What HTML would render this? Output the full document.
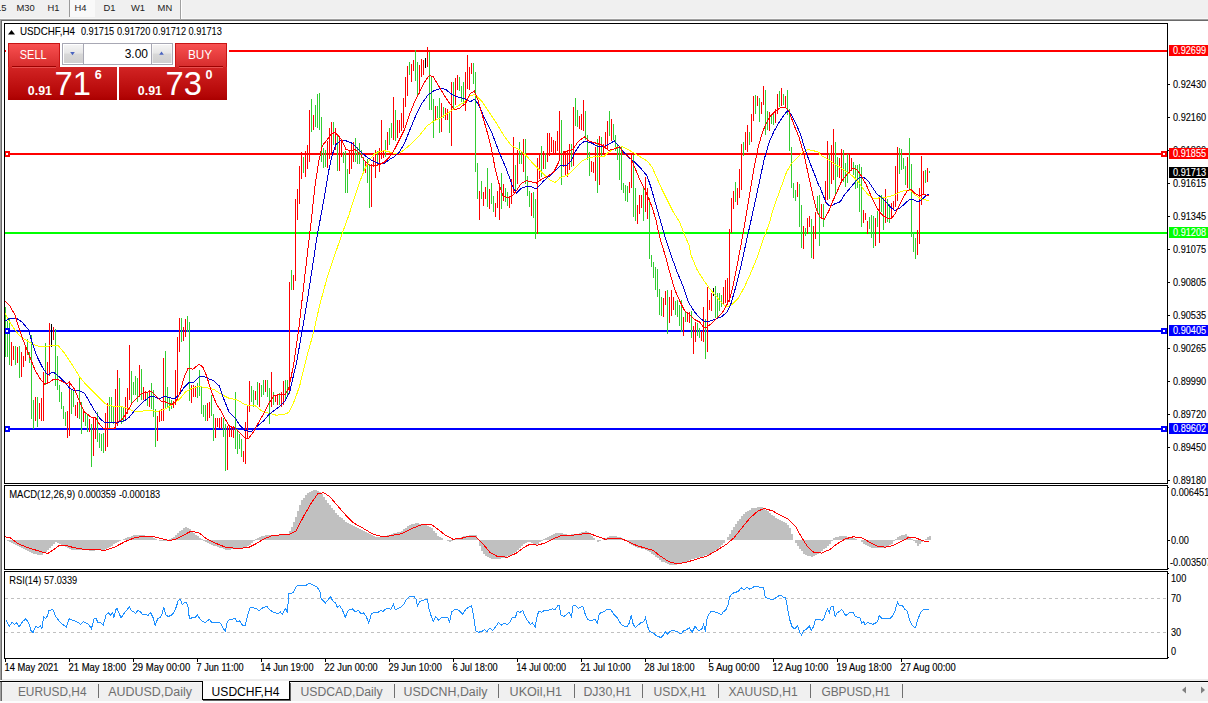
<!DOCTYPE html>
<html><head><meta charset="utf-8">
<style>
html,body{margin:0;padding:0;background:#fff;}
body{width:1208px;height:703px;overflow:hidden;position:relative;font-family:"Liberation Sans",sans-serif;}
svg{position:absolute;left:0;top:0;}
text{font-family:"Liberation Sans",sans-serif;}
.k text, text.k{stroke:#000;stroke-width:0.08px;}
.ax{font-size:9.2px;fill:#000;}
.axw{font-size:9.2px;fill:#fff;}
.tm{font-size:10.2px;fill:#000;stroke:#000;stroke-width:0.15px;}
.tb{font-size:9.4px;fill:#222;}
.tab{font-size:12px;fill:#6e6e6e;}
.taba{font-size:12px;fill:#000;}
</style></head><body>
<svg width="1208" height="703" viewBox="0 0 1208 703">
<defs>
<linearGradient id="gbtn" x1="0" y1="0" x2="0" y2="1"><stop offset="0" stop-color="#fa5252"/><stop offset="1" stop-color="#d42a2a"/></linearGradient>
<linearGradient id="gbox" x1="0" y1="0" x2="0" y2="1"><stop offset="0" stop-color="#d22424"/><stop offset="0.85" stop-color="#b40606"/><stop offset="1" stop-color="#aa0000"/></linearGradient>
<linearGradient id="gsp" x1="0" y1="0" x2="0" y2="1"><stop offset="0" stop-color="#f4f4f4"/><stop offset="0.45" stop-color="#e6e6e6"/><stop offset="0.5" stop-color="#d8d8d8"/><stop offset="1" stop-color="#cfcfcf"/></linearGradient>
<clipPath id="cmain"><rect x="5" y="24" width="1162" height="459"/></clipPath>
<clipPath id="cmacd"><rect x="5" y="486" width="1162" height="83"/></clipPath>
<clipPath id="crsi"><rect x="5" y="572" width="1162" height="86"/></clipPath>
</defs>
<!-- page bg -->
<rect x="0" y="0" width="1208" height="703" fill="#ffffff"/>
<!-- top toolbar -->
<rect x="0" y="0" width="1208" height="19" fill="#f0f0f0"/>
<rect x="0" y="18" width="1208" height="1" fill="#f8f8f8"/>
<rect x="0" y="19" width="1208" height="1" fill="#a0a0a0"/>
<rect x="1" y="20" width="1207" height="1" fill="#696969"/>
<rect x="69" y="0" width="26" height="17" fill="#f9f9f9"/>
<rect x="69" y="0" width="1" height="17" fill="#9a9a9a"/>
<rect x="180" y="0" width="1" height="19" fill="#a0a0a0"/>
<rect x="181" y="0" width="1" height="19" fill="#ffffff"/>
<text class="tb" x="-4" y="10.8">15</text>
<text class="tb" x="16.4" y="10.8">M30</text>
<text class="tb" x="47.5" y="10.8">H1</text>
<text class="tb" x="74.6" y="10.8">H4</text>
<text class="tb" x="103.6" y="10.8">D1</text>
<text class="tb" x="131" y="10.8">W1</text>
<text class="tb" x="157.6" y="10.8">MN</text>
<!-- left frame strip -->
<rect x="0" y="19" width="1" height="661" fill="#a0a0a0"/><rect x="1" y="20" width="1" height="660" fill="#696969"/>
<!-- panels borders -->
<g fill="none" stroke="#000" stroke-width="1" shape-rendering="crispEdges">
<rect x="4.5" y="23.5" width="1163" height="460"/>
<rect x="4.5" y="485.5" width="1163" height="84"/>
<rect x="4.5" y="571.5" width="1163" height="87"/>
</g>
<!-- main chart -->
<g clip-path="url(#cmain)" shape-rendering="crispEdges">
<!-- horizontal levels -->
<rect x="5" y="50" width="1162" height="2" fill="#ff0000"/>
<rect x="5" y="153" width="1162" height="2" fill="#ff0000"/>
<rect x="5" y="232" width="1162" height="2" fill="#00ff00"/>
<rect x="5" y="330" width="1162" height="2" fill="#0000ff"/>
<rect x="5" y="428" width="1162" height="2" fill="#0000ff"/>
<rect x="5" y="307" width="1" height="50" fill="#32cd32"/>
<rect x="7" y="321" width="1" height="36" fill="#32cd32"/>
<rect x="9" y="319" width="1" height="46" fill="#32cd32"/>
<rect x="11" y="342" width="1" height="24" fill="#ff0000"/>
<rect x="13" y="346" width="1" height="14" fill="#ff0000"/>
<rect x="15" y="346" width="1" height="19" fill="#32cd32"/>
<rect x="17" y="347" width="1" height="16" fill="#ff0000"/>
<rect x="19" y="346" width="1" height="32" fill="#32cd32"/>
<rect x="21" y="352" width="1" height="25" fill="#ff0000"/>
<rect x="23" y="356" width="1" height="11" fill="#ff0000"/>
<rect x="25" y="347" width="1" height="14" fill="#ff0000"/>
<rect x="27" y="339" width="1" height="16" fill="#32cd32"/>
<rect x="29" y="352" width="1" height="11" fill="#32cd32"/>
<rect x="31" y="335" width="1" height="84" fill="#32cd32"/>
<rect x="33" y="400" width="1" height="29" fill="#32cd32"/>
<rect x="35" y="397" width="1" height="24" fill="#ff0000"/>
<rect x="37" y="397" width="1" height="30" fill="#32cd32"/>
<rect x="39" y="403" width="1" height="16" fill="#ff0000"/>
<rect x="41" y="398" width="1" height="23" fill="#ff0000"/>
<rect x="43" y="372" width="1" height="49" fill="#ff0000"/>
<rect x="45" y="343" width="1" height="42" fill="#32cd32"/>
<rect x="47" y="362" width="1" height="20" fill="#ff0000"/>
<rect x="49" y="323" width="1" height="53" fill="#ff0000"/>
<rect x="51" y="324" width="1" height="23" fill="#000000"/>
<rect x="53" y="327" width="1" height="13" fill="#ff0000"/>
<rect x="55" y="329" width="1" height="57" fill="#32cd32"/>
<rect x="57" y="356" width="1" height="34" fill="#32cd32"/>
<rect x="59" y="385" width="1" height="17" fill="#32cd32"/>
<rect x="61" y="392" width="1" height="17" fill="#32cd32"/>
<rect x="63" y="406" width="1" height="13" fill="#32cd32"/>
<rect x="65" y="412" width="1" height="14" fill="#32cd32"/>
<rect x="67" y="411" width="1" height="27" fill="#ff0000"/>
<rect x="69" y="381" width="1" height="55" fill="#ff0000"/>
<rect x="71" y="390" width="1" height="24" fill="#32cd32"/>
<rect x="73" y="390" width="1" height="17" fill="#32cd32"/>
<rect x="75" y="405" width="1" height="11" fill="#ff0000"/>
<rect x="77" y="402" width="1" height="16" fill="#ff0000"/>
<rect x="79" y="378" width="1" height="41" fill="#32cd32"/>
<rect x="81" y="402" width="1" height="32" fill="#32cd32"/>
<rect x="83" y="409" width="1" height="13" fill="#ff0000"/>
<rect x="85" y="412" width="1" height="14" fill="#32cd32"/>
<rect x="87" y="414" width="1" height="18" fill="#32cd32"/>
<rect x="89" y="419" width="1" height="13" fill="#ff0000"/>
<rect x="91" y="424" width="1" height="43" fill="#32cd32"/>
<rect x="93" y="417" width="1" height="39" fill="#ff0000"/>
<rect x="95" y="417" width="1" height="22" fill="#ff0000"/>
<rect x="97" y="412" width="1" height="30" fill="#32cd32"/>
<rect x="99" y="433" width="1" height="15" fill="#32cd32"/>
<rect x="101" y="434" width="1" height="17" fill="#32cd32"/>
<rect x="103" y="433" width="1" height="20" fill="#32cd32"/>
<rect x="105" y="413" width="1" height="38" fill="#ff0000"/>
<rect x="107" y="403" width="1" height="44" fill="#ff0000"/>
<rect x="109" y="397" width="1" height="32" fill="#32cd32"/>
<rect x="111" y="397" width="1" height="25" fill="#32cd32"/>
<rect x="113" y="407" width="1" height="17" fill="#32cd32"/>
<rect x="115" y="389" width="1" height="40" fill="#ff0000"/>
<rect x="117" y="370" width="1" height="56" fill="#ff0000"/>
<rect x="119" y="378" width="1" height="44" fill="#32cd32"/>
<rect x="121" y="407" width="1" height="17" fill="#32cd32"/>
<rect x="123" y="407" width="1" height="15" fill="#32cd32"/>
<rect x="125" y="397" width="1" height="22" fill="#ff0000"/>
<rect x="127" y="388" width="1" height="26" fill="#ff0000"/>
<rect x="129" y="345" width="1" height="55" fill="#ff0000"/>
<rect x="131" y="371" width="1" height="34" fill="#32cd32"/>
<rect x="133" y="382" width="1" height="13" fill="#32cd32"/>
<rect x="135" y="376" width="1" height="19" fill="#32cd32"/>
<rect x="137" y="378" width="1" height="24" fill="#32cd32"/>
<rect x="139" y="365" width="1" height="32" fill="#ff0000"/>
<rect x="141" y="369" width="1" height="31" fill="#32cd32"/>
<rect x="143" y="387" width="1" height="13" fill="#ff0000"/>
<rect x="145" y="391" width="1" height="10" fill="#ff0000"/>
<rect x="147" y="393" width="1" height="13" fill="#32cd32"/>
<rect x="149" y="390" width="1" height="17" fill="#ff0000"/>
<rect x="151" y="383" width="1" height="26" fill="#32cd32"/>
<rect x="153" y="390" width="1" height="27" fill="#32cd32"/>
<rect x="155" y="409" width="1" height="38" fill="#32cd32"/>
<rect x="157" y="416" width="1" height="25" fill="#ff0000"/>
<rect x="159" y="411" width="1" height="11" fill="#ff0000"/>
<rect x="161" y="409" width="1" height="12" fill="#ff0000"/>
<rect x="163" y="358" width="1" height="63" fill="#ff0000"/>
<rect x="165" y="351" width="1" height="58" fill="#32cd32"/>
<rect x="167" y="387" width="1" height="20" fill="#32cd32"/>
<rect x="169" y="397" width="1" height="14" fill="#32cd32"/>
<rect x="171" y="400" width="1" height="9" fill="#32cd32"/>
<rect x="173" y="401" width="1" height="7" fill="#ff0000"/>
<rect x="175" y="370" width="1" height="35" fill="#ff0000"/>
<rect x="177" y="337" width="1" height="63" fill="#ff0000"/>
<rect x="179" y="318" width="1" height="34" fill="#ff0000"/>
<rect x="181" y="318" width="1" height="24" fill="#32cd32"/>
<rect x="183" y="327" width="1" height="14" fill="#ff0000"/>
<rect x="185" y="319" width="1" height="18" fill="#ff0000"/>
<rect x="187" y="316" width="1" height="16" fill="#32cd32"/>
<rect x="189" y="322" width="1" height="79" fill="#32cd32"/>
<rect x="191" y="385" width="1" height="18" fill="#ff0000"/>
<rect x="193" y="385" width="1" height="12" fill="#ff0000"/>
<rect x="195" y="386" width="1" height="11" fill="#ff0000"/>
<rect x="197" y="383" width="1" height="15" fill="#32cd32"/>
<rect x="199" y="370" width="1" height="26" fill="#32cd32"/>
<rect x="201" y="386" width="1" height="28" fill="#32cd32"/>
<rect x="203" y="405" width="1" height="12" fill="#32cd32"/>
<rect x="205" y="405" width="1" height="16" fill="#32cd32"/>
<rect x="207" y="403" width="1" height="18" fill="#ff0000"/>
<rect x="209" y="402" width="1" height="16" fill="#ff0000"/>
<rect x="211" y="395" width="1" height="21" fill="#32cd32"/>
<rect x="213" y="414" width="1" height="27" fill="#32cd32"/>
<rect x="215" y="418" width="1" height="20" fill="#ff0000"/>
<rect x="217" y="418" width="1" height="9" fill="#ff0000"/>
<rect x="219" y="418" width="1" height="10" fill="#ff0000"/>
<rect x="221" y="417" width="1" height="12" fill="#ff0000"/>
<rect x="223" y="418" width="1" height="19" fill="#32cd32"/>
<rect x="225" y="424" width="1" height="47" fill="#32cd32"/>
<rect x="227" y="426" width="1" height="44" fill="#ff0000"/>
<rect x="229" y="426" width="1" height="11" fill="#ff0000"/>
<rect x="231" y="426" width="1" height="11" fill="#ff0000"/>
<rect x="233" y="426" width="1" height="12" fill="#ff0000"/>
<rect x="235" y="392" width="1" height="57" fill="#32cd32"/>
<rect x="237" y="429" width="1" height="25" fill="#32cd32"/>
<rect x="239" y="434" width="1" height="15" fill="#32cd32"/>
<rect x="241" y="439" width="1" height="18" fill="#32cd32"/>
<rect x="243" y="451" width="1" height="11" fill="#ff0000"/>
<rect x="245" y="422" width="1" height="42" fill="#ff0000"/>
<rect x="247" y="405" width="1" height="34" fill="#ff0000"/>
<rect x="249" y="381" width="1" height="31" fill="#ff0000"/>
<rect x="251" y="386" width="1" height="16" fill="#32cd32"/>
<rect x="253" y="390" width="1" height="17" fill="#32cd32"/>
<rect x="255" y="391" width="1" height="9" fill="#ff0000"/>
<rect x="257" y="382" width="1" height="23" fill="#32cd32"/>
<rect x="259" y="383" width="1" height="24" fill="#ff0000"/>
<rect x="261" y="385" width="1" height="12" fill="#32cd32"/>
<rect x="263" y="380" width="1" height="15" fill="#32cd32"/>
<rect x="265" y="380" width="1" height="12" fill="#ff0000"/>
<rect x="267" y="380" width="1" height="17" fill="#32cd32"/>
<rect x="269" y="388" width="1" height="36" fill="#32cd32"/>
<rect x="271" y="372" width="1" height="35" fill="#ff0000"/>
<rect x="273" y="392" width="1" height="13" fill="#32cd32"/>
<rect x="275" y="395" width="1" height="7" fill="#ff0000"/>
<rect x="277" y="395" width="1" height="10" fill="#ff0000"/>
<rect x="279" y="393" width="1" height="12" fill="#32cd32"/>
<rect x="281" y="392" width="1" height="15" fill="#ff0000"/>
<rect x="283" y="381" width="1" height="24" fill="#ff0000"/>
<rect x="285" y="380" width="1" height="20" fill="#32cd32"/>
<rect x="287" y="380" width="1" height="17" fill="#32cd32"/>
<rect x="289" y="282" width="1" height="112" fill="#ff0000"/>
<rect x="291" y="270" width="1" height="20" fill="#32cd32"/>
<rect x="293" y="275" width="1" height="15" fill="#ff0000"/>
<rect x="295" y="199" width="1" height="82" fill="#ff0000"/>
<rect x="297" y="189" width="1" height="31" fill="#ff0000"/>
<rect x="299" y="166" width="1" height="38" fill="#ff0000"/>
<rect x="301" y="152" width="1" height="27" fill="#ff0000"/>
<rect x="303" y="157" width="1" height="16" fill="#32cd32"/>
<rect x="305" y="151" width="1" height="26" fill="#ff0000"/>
<rect x="307" y="145" width="1" height="24" fill="#ff0000"/>
<rect x="309" y="110" width="1" height="52" fill="#ff0000"/>
<rect x="311" y="99" width="1" height="33" fill="#32cd32"/>
<rect x="313" y="115" width="1" height="15" fill="#ff0000"/>
<rect x="315" y="105" width="1" height="22" fill="#32cd32"/>
<rect x="317" y="94" width="1" height="34" fill="#32cd32"/>
<rect x="319" y="93" width="1" height="37" fill="#32cd32"/>
<rect x="321" y="117" width="1" height="45" fill="#32cd32"/>
<rect x="323" y="148" width="1" height="20" fill="#32cd32"/>
<rect x="325" y="150" width="1" height="17" fill="#32cd32"/>
<rect x="327" y="141" width="1" height="27" fill="#ff0000"/>
<rect x="329" y="128" width="1" height="31" fill="#ff0000"/>
<rect x="331" y="122" width="1" height="33" fill="#ff0000"/>
<rect x="333" y="122" width="1" height="23" fill="#32cd32"/>
<rect x="335" y="128" width="1" height="22" fill="#ff0000"/>
<rect x="337" y="135" width="1" height="36" fill="#32cd32"/>
<rect x="339" y="138" width="1" height="33" fill="#ff0000"/>
<rect x="341" y="140" width="1" height="17" fill="#ff0000"/>
<rect x="343" y="152" width="1" height="11" fill="#32cd32"/>
<rect x="345" y="151" width="1" height="42" fill="#32cd32"/>
<rect x="347" y="169" width="1" height="24" fill="#32cd32"/>
<rect x="349" y="150" width="1" height="24" fill="#ff0000"/>
<rect x="351" y="143" width="1" height="26" fill="#ff0000"/>
<rect x="353" y="142" width="1" height="20" fill="#ff0000"/>
<rect x="355" y="138" width="1" height="24" fill="#32cd32"/>
<rect x="357" y="147" width="1" height="17" fill="#32cd32"/>
<rect x="359" y="143" width="1" height="21" fill="#32cd32"/>
<rect x="361" y="150" width="1" height="8" fill="#32cd32"/>
<rect x="363" y="157" width="1" height="14" fill="#32cd32"/>
<rect x="365" y="162" width="1" height="11" fill="#ff0000"/>
<rect x="367" y="159" width="1" height="24" fill="#32cd32"/>
<rect x="369" y="164" width="1" height="44" fill="#32cd32"/>
<rect x="371" y="164" width="1" height="43" fill="#ff0000"/>
<rect x="373" y="157" width="1" height="10" fill="#ff0000"/>
<rect x="375" y="150" width="1" height="28" fill="#ff0000"/>
<rect x="377" y="151" width="1" height="11" fill="#32cd32"/>
<rect x="379" y="148" width="1" height="24" fill="#ff0000"/>
<rect x="381" y="120" width="1" height="39" fill="#ff0000"/>
<rect x="383" y="150" width="1" height="8" fill="#ff0000"/>
<rect x="385" y="140" width="1" height="17" fill="#32cd32"/>
<rect x="387" y="132" width="1" height="18" fill="#ff0000"/>
<rect x="389" y="128" width="1" height="17" fill="#32cd32"/>
<rect x="391" y="123" width="1" height="15" fill="#32cd32"/>
<rect x="393" y="97" width="1" height="43" fill="#ff0000"/>
<rect x="395" y="110" width="1" height="31" fill="#32cd32"/>
<rect x="397" y="120" width="1" height="18" fill="#ff0000"/>
<rect x="399" y="120" width="1" height="13" fill="#ff0000"/>
<rect x="401" y="113" width="1" height="18" fill="#ff0000"/>
<rect x="403" y="98" width="1" height="30" fill="#ff0000"/>
<rect x="405" y="77" width="1" height="30" fill="#ff0000"/>
<rect x="407" y="66" width="1" height="30" fill="#ff0000"/>
<rect x="409" y="62" width="1" height="13" fill="#32cd32"/>
<rect x="411" y="64" width="1" height="18" fill="#ff0000"/>
<rect x="413" y="60" width="1" height="11" fill="#ff0000"/>
<rect x="415" y="50" width="1" height="31" fill="#32cd32"/>
<rect x="417" y="62" width="1" height="34" fill="#32cd32"/>
<rect x="419" y="65" width="1" height="29" fill="#ff0000"/>
<rect x="421" y="59" width="1" height="18" fill="#ff0000"/>
<rect x="423" y="60" width="1" height="15" fill="#ff0000"/>
<rect x="425" y="58" width="1" height="10" fill="#000000"/>
<rect x="427" y="47" width="1" height="20" fill="#ff0000"/>
<rect x="429" y="52" width="1" height="58" fill="#32cd32"/>
<rect x="431" y="77" width="1" height="33" fill="#32cd32"/>
<rect x="433" y="99" width="1" height="39" fill="#32cd32"/>
<rect x="435" y="106" width="1" height="14" fill="#ff0000"/>
<rect x="437" y="106" width="1" height="12" fill="#32cd32"/>
<rect x="439" y="98" width="1" height="35" fill="#32cd32"/>
<rect x="441" y="103" width="1" height="29" fill="#ff0000"/>
<rect x="443" y="107" width="1" height="11" fill="#32cd32"/>
<rect x="445" y="108" width="1" height="12" fill="#ff0000"/>
<rect x="447" y="109" width="1" height="11" fill="#ff0000"/>
<rect x="449" y="112" width="1" height="21" fill="#32cd32"/>
<rect x="451" y="82" width="1" height="64" fill="#ff0000"/>
<rect x="453" y="82" width="1" height="28" fill="#32cd32"/>
<rect x="455" y="78" width="1" height="27" fill="#ff0000"/>
<rect x="457" y="75" width="1" height="15" fill="#ff0000"/>
<rect x="459" y="77" width="1" height="14" fill="#32cd32"/>
<rect x="461" y="86" width="1" height="16" fill="#32cd32"/>
<rect x="463" y="82" width="1" height="24" fill="#32cd32"/>
<rect x="465" y="72" width="1" height="39" fill="#ff0000"/>
<rect x="467" y="55" width="1" height="34" fill="#ff0000"/>
<rect x="469" y="67" width="1" height="23" fill="#ff0000"/>
<rect x="471" y="63" width="1" height="11" fill="#ff0000"/>
<rect x="473" y="63" width="1" height="21" fill="#32cd32"/>
<rect x="475" y="72" width="1" height="100" fill="#32cd32"/>
<rect x="477" y="163" width="1" height="36" fill="#32cd32"/>
<rect x="479" y="191" width="1" height="29" fill="#ff0000"/>
<rect x="481" y="181" width="1" height="18" fill="#32cd32"/>
<rect x="483" y="192" width="1" height="14" fill="#ff0000"/>
<rect x="485" y="187" width="1" height="12" fill="#ff0000"/>
<rect x="487" y="168" width="1" height="39" fill="#32cd32"/>
<rect x="489" y="189" width="1" height="20" fill="#ff0000"/>
<rect x="491" y="183" width="1" height="21" fill="#32cd32"/>
<rect x="493" y="196" width="1" height="16" fill="#32cd32"/>
<rect x="495" y="203" width="1" height="14" fill="#ff0000"/>
<rect x="497" y="191" width="1" height="17" fill="#ff0000"/>
<rect x="499" y="183" width="1" height="37" fill="#ff0000"/>
<rect x="501" y="173" width="1" height="36" fill="#32cd32"/>
<rect x="503" y="184" width="1" height="17" fill="#ff0000"/>
<rect x="505" y="188" width="1" height="14" fill="#32cd32"/>
<rect x="507" y="192" width="1" height="14" fill="#32cd32"/>
<rect x="509" y="196" width="1" height="12" fill="#ff0000"/>
<rect x="511" y="179" width="1" height="25" fill="#ff0000"/>
<rect x="513" y="137" width="1" height="56" fill="#ff0000"/>
<rect x="515" y="165" width="1" height="27" fill="#32cd32"/>
<rect x="517" y="150" width="1" height="34" fill="#ff0000"/>
<rect x="519" y="142" width="1" height="22" fill="#32cd32"/>
<rect x="521" y="151" width="1" height="13" fill="#32cd32"/>
<rect x="523" y="139" width="1" height="33" fill="#ff0000"/>
<rect x="525" y="139" width="1" height="45" fill="#32cd32"/>
<rect x="527" y="176" width="1" height="20" fill="#32cd32"/>
<rect x="529" y="191" width="1" height="16" fill="#32cd32"/>
<rect x="531" y="193" width="1" height="23" fill="#ff0000"/>
<rect x="533" y="192" width="1" height="26" fill="#32cd32"/>
<rect x="535" y="199" width="1" height="40" fill="#32cd32"/>
<rect x="537" y="158" width="1" height="76" fill="#ff0000"/>
<rect x="539" y="153" width="1" height="26" fill="#ff0000"/>
<rect x="541" y="146" width="1" height="31" fill="#32cd32"/>
<rect x="543" y="151" width="1" height="18" fill="#ff0000"/>
<rect x="545" y="153" width="1" height="16" fill="#32cd32"/>
<rect x="547" y="133" width="1" height="29" fill="#ff0000"/>
<rect x="549" y="133" width="1" height="23" fill="#ff0000"/>
<rect x="551" y="137" width="1" height="15" fill="#ff0000"/>
<rect x="553" y="140" width="1" height="15" fill="#ff0000"/>
<rect x="555" y="141" width="1" height="12" fill="#ff0000"/>
<rect x="557" y="131" width="1" height="20" fill="#ff0000"/>
<rect x="559" y="111" width="1" height="44" fill="#ff0000"/>
<rect x="561" y="120" width="1" height="65" fill="#32cd32"/>
<rect x="563" y="151" width="1" height="16" fill="#ff0000"/>
<rect x="565" y="152" width="1" height="23" fill="#ff0000"/>
<rect x="567" y="150" width="1" height="27" fill="#ff0000"/>
<rect x="569" y="144" width="1" height="26" fill="#ff0000"/>
<rect x="571" y="144" width="1" height="23" fill="#32cd32"/>
<rect x="573" y="107" width="1" height="59" fill="#ff0000"/>
<rect x="575" y="98" width="1" height="28" fill="#32cd32"/>
<rect x="577" y="110" width="1" height="17" fill="#32cd32"/>
<rect x="579" y="116" width="1" height="13" fill="#ff0000"/>
<rect x="581" y="114" width="1" height="16" fill="#ff0000"/>
<rect x="583" y="100" width="1" height="31" fill="#ff0000"/>
<rect x="585" y="111" width="1" height="29" fill="#32cd32"/>
<rect x="587" y="135" width="1" height="25" fill="#32cd32"/>
<rect x="589" y="152" width="1" height="24" fill="#32cd32"/>
<rect x="591" y="161" width="1" height="11" fill="#ff0000"/>
<rect x="593" y="162" width="1" height="11" fill="#ff0000"/>
<rect x="595" y="147" width="1" height="34" fill="#ff0000"/>
<rect x="597" y="139" width="1" height="54" fill="#32cd32"/>
<rect x="599" y="136" width="1" height="49" fill="#ff0000"/>
<rect x="601" y="137" width="1" height="20" fill="#32cd32"/>
<rect x="603" y="144" width="1" height="11" fill="#ff0000"/>
<rect x="605" y="132" width="1" height="17" fill="#ff0000"/>
<rect x="607" y="121" width="1" height="29" fill="#ff0000"/>
<rect x="609" y="111" width="1" height="25" fill="#32cd32"/>
<rect x="611" y="119" width="1" height="22" fill="#ff0000"/>
<rect x="613" y="124" width="1" height="16" fill="#32cd32"/>
<rect x="615" y="135" width="1" height="16" fill="#32cd32"/>
<rect x="617" y="144" width="1" height="16" fill="#32cd32"/>
<rect x="619" y="146" width="1" height="34" fill="#32cd32"/>
<rect x="621" y="146" width="1" height="44" fill="#32cd32"/>
<rect x="623" y="183" width="1" height="10" fill="#32cd32"/>
<rect x="625" y="185" width="1" height="16" fill="#32cd32"/>
<rect x="627" y="186" width="1" height="16" fill="#32cd32"/>
<rect x="629" y="182" width="1" height="11" fill="#ff0000"/>
<rect x="631" y="153" width="1" height="35" fill="#ff0000"/>
<rect x="633" y="155" width="1" height="62" fill="#32cd32"/>
<rect x="635" y="188" width="1" height="33" fill="#32cd32"/>
<rect x="637" y="205" width="1" height="19" fill="#ff0000"/>
<rect x="639" y="195" width="1" height="19" fill="#ff0000"/>
<rect x="641" y="195" width="1" height="13" fill="#ff0000"/>
<rect x="643" y="188" width="1" height="33" fill="#32cd32"/>
<rect x="645" y="177" width="1" height="35" fill="#ff0000"/>
<rect x="647" y="188" width="1" height="31" fill="#ff0000"/>
<rect x="649" y="198" width="1" height="61" fill="#32cd32"/>
<rect x="651" y="255" width="1" height="12" fill="#32cd32"/>
<rect x="653" y="262" width="1" height="16" fill="#32cd32"/>
<rect x="655" y="267" width="1" height="23" fill="#32cd32"/>
<rect x="657" y="269" width="1" height="28" fill="#32cd32"/>
<rect x="659" y="289" width="1" height="26" fill="#32cd32"/>
<rect x="661" y="297" width="1" height="19" fill="#32cd32"/>
<rect x="663" y="298" width="1" height="19" fill="#ff0000"/>
<rect x="665" y="291" width="1" height="14" fill="#ff0000"/>
<rect x="667" y="290" width="1" height="44" fill="#32cd32"/>
<rect x="669" y="297" width="1" height="26" fill="#ff0000"/>
<rect x="671" y="290" width="1" height="26" fill="#ff0000"/>
<rect x="673" y="297" width="1" height="13" fill="#ff0000"/>
<rect x="675" y="301" width="1" height="14" fill="#32cd32"/>
<rect x="677" y="300" width="1" height="17" fill="#32cd32"/>
<rect x="679" y="305" width="1" height="21" fill="#32cd32"/>
<rect x="681" y="300" width="1" height="32" fill="#32cd32"/>
<rect x="683" y="317" width="1" height="19" fill="#ff0000"/>
<rect x="685" y="312" width="1" height="10" fill="#32cd32"/>
<rect x="687" y="312" width="1" height="10" fill="#ff0000"/>
<rect x="689" y="312" width="1" height="11" fill="#ff0000"/>
<rect x="691" y="311" width="1" height="27" fill="#32cd32"/>
<rect x="693" y="326" width="1" height="28" fill="#ff0000"/>
<rect x="695" y="322" width="1" height="20" fill="#ff0000"/>
<rect x="697" y="323" width="1" height="13" fill="#32cd32"/>
<rect x="699" y="328" width="1" height="10" fill="#32cd32"/>
<rect x="701" y="331" width="1" height="10" fill="#ff0000"/>
<rect x="703" y="307" width="1" height="35" fill="#ff0000"/>
<rect x="705" y="319" width="1" height="40" fill="#32cd32"/>
<rect x="707" y="287" width="1" height="65" fill="#ff0000"/>
<rect x="709" y="300" width="1" height="10" fill="#ff0000"/>
<rect x="711" y="293" width="1" height="18" fill="#ff0000"/>
<rect x="713" y="288" width="1" height="8" fill="#000000"/>
<rect x="715" y="286" width="1" height="32" fill="#32cd32"/>
<rect x="717" y="293" width="1" height="24" fill="#32cd32"/>
<rect x="719" y="293" width="1" height="18" fill="#32cd32"/>
<rect x="721" y="295" width="1" height="12" fill="#32cd32"/>
<rect x="723" y="287" width="1" height="18" fill="#ff0000"/>
<rect x="725" y="280" width="1" height="23" fill="#ff0000"/>
<rect x="727" y="278" width="1" height="27" fill="#ff0000"/>
<rect x="729" y="229" width="1" height="73" fill="#ff0000"/>
<rect x="731" y="198" width="1" height="35" fill="#ff0000"/>
<rect x="733" y="191" width="1" height="18" fill="#ff0000"/>
<rect x="735" y="182" width="1" height="20" fill="#32cd32"/>
<rect x="737" y="188" width="1" height="17" fill="#ff0000"/>
<rect x="739" y="169" width="1" height="29" fill="#ff0000"/>
<rect x="741" y="144" width="1" height="46" fill="#ff0000"/>
<rect x="743" y="142" width="1" height="14" fill="#32cd32"/>
<rect x="745" y="132" width="1" height="18" fill="#ff0000"/>
<rect x="747" y="125" width="1" height="27" fill="#ff0000"/>
<rect x="749" y="132" width="1" height="13" fill="#32cd32"/>
<rect x="751" y="114" width="1" height="28" fill="#ff0000"/>
<rect x="753" y="96" width="1" height="25" fill="#ff0000"/>
<rect x="755" y="95" width="1" height="19" fill="#32cd32"/>
<rect x="757" y="96" width="1" height="10" fill="#ff0000"/>
<rect x="759" y="98" width="1" height="24" fill="#32cd32"/>
<rect x="761" y="102" width="1" height="12" fill="#ff0000"/>
<rect x="763" y="86" width="1" height="19" fill="#ff0000"/>
<rect x="765" y="90" width="1" height="45" fill="#32cd32"/>
<rect x="767" y="111" width="1" height="19" fill="#32cd32"/>
<rect x="769" y="112" width="1" height="19" fill="#ff0000"/>
<rect x="771" y="114" width="1" height="10" fill="#32cd32"/>
<rect x="773" y="112" width="1" height="13" fill="#32cd32"/>
<rect x="775" y="109" width="1" height="14" fill="#ff0000"/>
<rect x="777" y="94" width="1" height="20" fill="#ff0000"/>
<rect x="779" y="91" width="1" height="16" fill="#32cd32"/>
<rect x="781" y="88" width="1" height="18" fill="#ff0000"/>
<rect x="783" y="94" width="1" height="11" fill="#32cd32"/>
<rect x="785" y="96" width="1" height="10" fill="#ff0000"/>
<rect x="787" y="90" width="1" height="25" fill="#32cd32"/>
<rect x="789" y="109" width="1" height="42" fill="#32cd32"/>
<rect x="791" y="147" width="1" height="41" fill="#32cd32"/>
<rect x="793" y="183" width="1" height="15" fill="#32cd32"/>
<rect x="795" y="190" width="1" height="11" fill="#32cd32"/>
<rect x="797" y="182" width="1" height="15" fill="#ff0000"/>
<rect x="799" y="184" width="1" height="43" fill="#32cd32"/>
<rect x="801" y="205" width="1" height="43" fill="#32cd32"/>
<rect x="803" y="226" width="1" height="23" fill="#ff0000"/>
<rect x="805" y="228" width="1" height="8" fill="#32cd32"/>
<rect x="807" y="218" width="1" height="16" fill="#ff0000"/>
<rect x="809" y="216" width="1" height="11" fill="#ff0000"/>
<rect x="811" y="219" width="1" height="39" fill="#32cd32"/>
<rect x="813" y="226" width="1" height="33" fill="#ff0000"/>
<rect x="815" y="212" width="1" height="27" fill="#ff0000"/>
<rect x="817" y="196" width="1" height="18" fill="#32cd32"/>
<rect x="819" y="195" width="1" height="51" fill="#32cd32"/>
<rect x="821" y="204" width="1" height="15" fill="#ff0000"/>
<rect x="823" y="204" width="1" height="23" fill="#32cd32"/>
<rect x="825" y="181" width="1" height="22" fill="#ff0000"/>
<rect x="827" y="141" width="1" height="59" fill="#ff0000"/>
<rect x="829" y="153" width="1" height="46" fill="#32cd32"/>
<rect x="831" y="145" width="1" height="39" fill="#ff0000"/>
<rect x="833" y="129" width="1" height="51" fill="#ff0000"/>
<rect x="835" y="142" width="1" height="54" fill="#32cd32"/>
<rect x="837" y="157" width="1" height="20" fill="#32cd32"/>
<rect x="839" y="158" width="1" height="20" fill="#ff0000"/>
<rect x="841" y="149" width="1" height="34" fill="#ff0000"/>
<rect x="843" y="150" width="1" height="32" fill="#32cd32"/>
<rect x="845" y="163" width="1" height="24" fill="#32cd32"/>
<rect x="847" y="154" width="1" height="29" fill="#32cd32"/>
<rect x="849" y="153" width="1" height="20" fill="#ff0000"/>
<rect x="851" y="158" width="1" height="13" fill="#ff0000"/>
<rect x="853" y="162" width="1" height="13" fill="#32cd32"/>
<rect x="855" y="165" width="1" height="24" fill="#32cd32"/>
<rect x="857" y="165" width="1" height="23" fill="#32cd32"/>
<rect x="859" y="164" width="1" height="48" fill="#32cd32"/>
<rect x="861" y="167" width="1" height="60" fill="#32cd32"/>
<rect x="863" y="210" width="1" height="13" fill="#ff0000"/>
<rect x="865" y="213" width="1" height="7" fill="#ff0000"/>
<rect x="867" y="221" width="1" height="13" fill="#ff0000"/>
<rect x="869" y="217" width="1" height="12" fill="#32cd32"/>
<rect x="871" y="215" width="1" height="23" fill="#32cd32"/>
<rect x="873" y="216" width="1" height="32" fill="#32cd32"/>
<rect x="875" y="218" width="1" height="28" fill="#ff0000"/>
<rect x="877" y="211" width="1" height="16" fill="#32cd32"/>
<rect x="879" y="198" width="1" height="45" fill="#ff0000"/>
<rect x="881" y="195" width="1" height="17" fill="#32cd32"/>
<rect x="883" y="198" width="1" height="32" fill="#32cd32"/>
<rect x="885" y="189" width="1" height="34" fill="#ff0000"/>
<rect x="887" y="199" width="1" height="23" fill="#32cd32"/>
<rect x="889" y="204" width="1" height="19" fill="#32cd32"/>
<rect x="891" y="203" width="1" height="16" fill="#ff0000"/>
<rect x="893" y="201" width="1" height="9" fill="#ff0000"/>
<rect x="895" y="166" width="1" height="41" fill="#ff0000"/>
<rect x="897" y="147" width="1" height="54" fill="#ff0000"/>
<rect x="899" y="148" width="1" height="26" fill="#32cd32"/>
<rect x="901" y="149" width="1" height="21" fill="#32cd32"/>
<rect x="903" y="158" width="1" height="11" fill="#32cd32"/>
<rect x="905" y="166" width="1" height="19" fill="#32cd32"/>
<rect x="907" y="157" width="1" height="31" fill="#ff0000"/>
<rect x="909" y="138" width="1" height="52" fill="#32cd32"/>
<rect x="911" y="164" width="1" height="73" fill="#32cd32"/>
<rect x="913" y="232" width="1" height="20" fill="#32cd32"/>
<rect x="915" y="238" width="1" height="21" fill="#32cd32"/>
<rect x="917" y="230" width="1" height="25" fill="#ff0000"/>
<rect x="919" y="188" width="1" height="56" fill="#ff0000"/>
<rect x="921" y="156" width="1" height="49" fill="#ff0000"/>
<rect x="923" y="171" width="1" height="24" fill="#ff0000"/>
<rect x="925" y="170" width="1" height="13" fill="#32cd32"/>
<rect x="927" y="168" width="1" height="14" fill="#ff0000"/>
<rect x="929" y="171" width="1" height="2" fill="#32cd32"/>
<polyline fill="none" stroke="#ffff00" stroke-width="1" points="5.0,313.6 10.0,322.4 14.9,329.8 19.9,336.1 27.4,341.0 33.6,344.3 39.8,346.8 46.1,346.8 52.3,345.3 58.5,346.0 64.7,353.5 72.2,364.7 79.7,377.1 87.1,385.8 94.6,393.3 102.1,400.8 107.0,405.0 114.5,406.5 122.0,406.5 129.4,409.5 135.7,412.0 141.9,411.2 149.4,410.0 156.8,411.5 164.3,409.5 171.8,405.0 179.2,399.5 185.5,392.1 191.7,388.3 199.2,386.6 206.6,387.6 214.1,389.6 221.6,394.6 229.0,398.3 236.5,399.5 244.0,404.0 248.9,405.8 255.2,405.8 261.4,410.7 268.9,413.2 276.3,415.2 283.8,414.5 288.8,412.5 293.8,402.0 297.5,392.1 299.9,385.0 306.1,359.4 313.6,332.0 319.8,304.6 327.3,277.2 334.8,254.8 342.2,233.6 348.5,216.2 354.7,196.8 359.7,181.9 364.6,169.4 369.6,159.5 374.6,154.0 379.6,151.5 384.6,150.8 389.5,152.0 394.5,153.3 399.5,153.3 404.5,149.5 411.9,143.3 419.4,135.8 426.9,125.9 434.3,120.9 441.8,117.2 449.3,112.2 456.7,106.7 464.2,102.2 470.4,95.3 475.4,94.8 481.6,101.0 489.1,112.2 496.6,123.4 504.0,135.8 511.5,145.8 519.0,149.5 526.5,155.8 532.7,163.2 538.9,169.4 545.1,175.7 550.1,179.9 555.1,182.4 558.8,179.4 560.0,177.6 567.5,175.1 574.9,168.4 582.4,160.9 589.9,157.2 597.3,156.7 603.6,156.7 608.5,152.2 616.0,147.8 622.2,146.8 628.5,149.7 634.7,153.5 640.9,157.2 647.1,160.9 652.1,167.2 657.1,178.4 662.1,189.6 667.0,199.5 673.3,212.0 679.5,221.9 684.5,234.4 689.4,246.3 690.9,254.8 697.1,269.7 703.3,279.7 709.5,288.4 715.8,295.8 722.0,303.3 727.0,307.0 731.9,304.6 738.2,298.3 744.4,287.1 750.6,273.4 756.8,258.5 763.1,239.8 769.3,223.6 771.6,214.5 776.6,199.5 781.6,185.8 786.5,172.2 791.5,163.4 797.7,157.2 802.7,152.2 807.7,149.7 812.7,150.5 818.9,152.2 820.0,154.6 826.4,158.4 832.8,162.7 839.2,166.9 845.6,171.2 852.0,175.5 858.4,181.9 862.7,188.3 868.0,194.7 873.3,198.5 879.7,197.9 886.1,197.2 892.5,195.7 898.9,192.5 904.3,190.4 909.6,190.0 914.9,194.7 920.3,198.5 924.5,199.8 928.8,200.6"/>
<polyline fill="none" stroke="#0000cd" stroke-width="1" points="5.0,321.1 10.0,318.1 16.2,318.1 22.4,322.4 28.6,329.8 32.4,343.5 37.3,357.2 42.3,367.2 47.3,374.6 53.5,372.2 59.7,377.1 64.7,382.1 69.7,388.3 74.7,390.8 79.7,390.8 84.6,393.3 89.6,402.0 94.6,410.7 99.6,418.2 104.6,422.7 112.0,422.7 119.5,421.9 124.5,420.7 129.4,417.0 134.4,410.7 139.4,405.8 144.4,400.8 149.4,397.0 154.3,396.5 159.3,399.0 164.3,396.5 169.3,397.5 174.3,399.0 179.2,394.6 184.2,387.1 189.2,382.1 194.2,382.1 199.2,376.6 204.1,376.6 209.1,379.1 214.1,380.9 219.1,385.8 224.0,399.5 229.0,412.0 235.3,418.2 240.2,425.7 245.2,430.7 251.4,431.4 256.4,426.9 263.9,420.7 268.9,414.5 273.8,410.7 278.8,407.0 285.0,400.8 290.0,390.8 291.2,385.0 296.2,364.3 302.4,329.5 307.4,299.6 312.4,267.3 317.3,234.9 320.6,217.5 324.8,194.3 328.5,171.9 332.3,154.5 336.0,144.6 341.0,140.3 346.0,140.8 352.2,143.3 357.2,148.3 362.2,153.3 368.4,158.2 374.6,162.0 379.6,163.7 384.6,163.2 389.5,159.5 394.5,156.5 399.5,152.0 404.5,143.3 409.4,130.9 415.7,115.9 421.9,103.5 428.1,94.8 434.3,90.5 440.6,88.5 445.5,89.3 450.5,93.5 456.7,96.8 461.7,97.8 466.7,99.7 470.4,101.7 474.2,99.2 477.9,103.5 484.1,117.2 491.6,132.1 499.1,152.0 506.5,169.4 512.8,186.9 516.5,193.1 521.5,188.1 526.5,186.4 531.4,186.9 536.4,188.9 543.9,180.7 551.3,174.4 558.8,167.0 560.0,165.9 566.2,165.9 571.2,160.9 574.9,152.2 579.9,144.8 584.9,141.0 591.1,142.8 597.3,146.0 603.6,146.8 609.8,143.5 614.3,141.0 618.5,145.3 623.5,152.2 628.5,157.2 634.7,162.2 640.9,168.4 647.1,175.9 650.9,187.1 655.8,204.5 660.8,221.9 665.8,239.4 669.5,250.6 670.9,254.8 677.2,272.2 683.4,287.1 688.4,302.1 694.6,312.0 700.8,319.0 705.8,322.0 710.8,320.7 715.8,319.0 722.0,316.5 727.0,312.0 730.7,304.6 735.7,287.1 740.7,267.2 745.6,244.8 750.6,222.4 752.9,212.0 756.7,194.6 760.4,177.1 764.1,159.7 769.1,142.3 774.1,131.1 779.1,122.4 784.0,114.9 787.8,110.4 791.5,114.9 796.5,124.9 800.2,133.6 805.2,149.7 810.2,163.4 815.2,175.9 818.9,185.8 820.0,187.2 823.2,195.7 826.4,203.2 830.2,206.4 834.9,203.8 840.3,201.7 844.5,194.7 849.9,188.3 855.2,181.9 859.5,177.2 863.7,177.2 868.0,180.8 872.3,187.2 876.5,193.6 881.9,197.9 886.1,202.1 890.4,207.0 894.7,210.7 900.0,208.1 905.3,203.2 909.6,199.4 913.9,200.0 918.1,202.1 922.4,198.9 926.7,195.1 928.8,194.2"/>
<polyline fill="none" stroke="#ff0000" stroke-width="1" points="5.0,301.2 10.0,306.2 14.9,314.9 19.9,331.1 24.9,344.8 29.9,357.2 34.9,369.7 39.8,378.4 44.8,384.1 49.8,382.1 53.5,379.1 59.7,380.1 66.0,383.4 69.7,382.6 74.7,389.6 79.7,402.0 84.6,412.0 90.9,417.0 95.8,418.2 99.6,424.4 103.3,428.2 109.5,428.7 114.5,428.2 117.0,421.9 122.0,419.4 127.0,412.0 131.9,403.3 136.9,398.3 141.9,393.3 146.9,392.1 151.9,391.6 155.6,395.8 160.6,400.8 165.5,402.0 171.8,404.5 175.5,402.0 179.2,394.6 184.2,377.1 188.0,368.4 192.9,369.2 199.2,364.2 202.9,367.2 206.6,375.9 211.6,392.1 216.6,404.5 221.6,412.0 225.3,419.4 229.0,425.7 235.3,428.2 240.2,433.1 245.2,438.1 248.9,438.1 252.7,433.1 258.9,421.9 263.9,413.2 268.9,403.3 273.8,395.8 278.8,394.6 285.0,394.6 288.8,388.3 293.7,364.3 298.7,329.5 302.4,297.1 306.1,264.8 309.9,232.4 311.6,217.5 314.9,186.9 318.6,162.0 322.3,145.8 327.3,139.6 331.0,134.6 334.8,132.1 338.5,135.8 342.2,140.8 346.0,149.5 350.9,150.8 354.7,149.5 359.7,153.3 364.6,160.7 369.6,165.7 374.6,165.7 379.6,164.5 384.6,162.0 389.5,157.0 394.5,149.5 399.5,139.6 404.5,129.6 409.4,114.7 414.4,102.2 419.4,92.3 424.4,82.3 429.4,75.3 433.1,76.8 438.1,84.8 443.1,93.5 448.0,101.0 454.3,109.7 459.2,108.5 465.5,103.5 470.4,93.5 474.2,91.0 477.9,99.7 482.9,117.2 487.9,134.6 491.6,149.5 495.3,169.4 499.1,184.4 502.8,195.6 506.5,197.3 511.5,196.8 516.5,190.6 521.5,183.1 526.5,180.7 531.4,181.9 536.4,183.1 541.4,179.4 547.6,176.4 553.8,171.9 558.8,162.0 560.0,155.2 565.0,151.7 572.4,149.7 578.7,141.0 584.9,136.8 588.6,141.0 594.9,142.8 602.3,145.3 608.5,150.5 613.5,149.2 619.7,146.8 623.5,153.5 630.9,158.5 634.7,167.2 639.7,179.6 645.9,192.1 652.1,207.0 655.8,219.4 659.6,236.9 663.3,249.3 664.7,253.5 669.7,272.2 674.7,289.6 679.7,300.8 684.6,310.8 689.6,314.5 694.6,319.5 699.6,322.0 703.3,327.0 707.0,327.0 712.0,323.2 717.0,318.2 722.0,313.3 727.0,304.6 730.7,295.8 734.4,279.7 738.2,259.7 741.9,239.8 744.4,226.1 746.7,212.0 750.4,189.6 754.2,167.2 757.9,148.5 761.6,134.8 765.4,124.9 770.4,116.1 775.3,111.2 780.3,107.9 785.3,106.9 789.0,111.2 794.0,124.9 799.0,137.3 804.0,154.7 808.9,177.1 812.7,194.6 816.4,209.5 818.9,214.5 820.0,217.1 824.3,219.2 828.5,211.7 832.8,201.1 837.1,191.5 841.3,181.9 845.6,175.9 849.9,170.8 853.1,168.0 857.3,170.1 861.6,176.5 865.9,184.0 870.1,193.6 874.4,203.2 878.7,210.7 882.9,215.6 887.2,218.1 891.5,218.6 895.7,212.8 900.0,204.3 904.3,195.7 907.5,190.4 910.7,189.3 914.9,193.6 919.2,195.7 923.5,194.2 926.7,195.1 928.8,195.7"/>
<!-- handles -->
<g>
<rect x="4" y="151" width="6" height="6" fill="#ff0000"/><rect x="6" y="153" width="2" height="2" fill="#fff"/>
<rect x="1161" y="151" width="6" height="6" fill="#ff0000"/><rect x="1163" y="153" width="2" height="2" fill="#fff"/>
<rect x="4" y="328" width="6" height="6" fill="#0000ff"/><rect x="6" y="330" width="2" height="2" fill="#fff"/>
<rect x="1161" y="328" width="6" height="6" fill="#0000ff"/><rect x="1163" y="330" width="2" height="2" fill="#fff"/>
<rect x="4" y="426" width="6" height="6" fill="#0000ff"/><rect x="6" y="428" width="2" height="2" fill="#fff"/>
<rect x="1161" y="426" width="6" height="6" fill="#0000ff"/><rect x="1163" y="428" width="2" height="2" fill="#fff"/>
</g>
</g>
<!-- macd -->
<g clip-path="url(#cmacd)" shape-rendering="crispEdges">
<g fill="#c0c0c0"><rect x="7" y="540" width="2" height="1"/><rect x="9" y="540" width="2" height="2"/><rect x="11" y="540" width="2" height="3"/><rect x="13" y="540" width="2" height="4"/><rect x="15" y="540" width="2" height="5"/><rect x="17" y="540" width="2" height="6"/><rect x="19" y="540" width="2" height="7"/><rect x="21" y="540" width="2" height="8"/><rect x="23" y="540" width="2" height="9"/><rect x="25" y="540" width="2" height="10"/><rect x="27" y="540" width="2" height="11"/><rect x="29" y="540" width="2" height="12"/><rect x="31" y="540" width="2" height="13"/><rect x="33" y="540" width="2" height="14"/><rect x="35" y="540" width="2" height="14"/><rect x="37" y="540" width="2" height="15"/><rect x="39" y="540" width="2" height="15"/><rect x="41" y="540" width="2" height="15"/><rect x="43" y="540" width="2" height="13"/><rect x="45" y="540" width="2" height="12"/><rect x="47" y="540" width="2" height="10"/><rect x="49" y="540" width="2" height="8"/><rect x="51" y="540" width="2" height="6"/><rect x="53" y="540" width="2" height="4"/><rect x="55" y="540" width="2" height="2"/><rect x="57" y="540" width="2" height="3"/><rect x="59" y="540" width="2" height="4"/><rect x="61" y="540" width="2" height="5"/><rect x="63" y="540" width="2" height="6"/><rect x="65" y="540" width="2" height="7"/><rect x="67" y="540" width="2" height="8"/><rect x="69" y="540" width="2" height="9"/><rect x="71" y="540" width="2" height="10"/><rect x="73" y="540" width="2" height="10"/><rect x="75" y="540" width="2" height="10"/><rect x="77" y="540" width="2" height="10"/><rect x="79" y="540" width="2" height="10"/><rect x="81" y="540" width="2" height="10"/><rect x="83" y="540" width="2" height="10"/><rect x="85" y="540" width="2" height="10"/><rect x="87" y="540" width="2" height="10"/><rect x="89" y="540" width="2" height="11"/><rect x="91" y="540" width="2" height="11"/><rect x="93" y="540" width="2" height="11"/><rect x="95" y="540" width="2" height="10"/><rect x="97" y="540" width="2" height="10"/><rect x="99" y="540" width="2" height="10"/><rect x="101" y="540" width="2" height="10"/><rect x="103" y="540" width="2" height="10"/><rect x="105" y="540" width="2" height="9"/><rect x="107" y="540" width="2" height="8"/><rect x="109" y="540" width="2" height="7"/><rect x="111" y="540" width="2" height="6"/><rect x="113" y="540" width="2" height="4"/><rect x="115" y="540" width="2" height="3"/><rect x="117" y="540" width="2" height="2"/><rect x="119" y="540" width="2" height="1"/><rect x="123" y="539" width="2" height="1"/><rect x="125" y="538" width="2" height="2"/><rect x="127" y="537" width="2" height="3"/><rect x="129" y="537" width="2" height="3"/><rect x="131" y="536" width="2" height="4"/><rect x="133" y="535" width="2" height="5"/><rect x="135" y="535" width="2" height="5"/><rect x="137" y="535" width="2" height="5"/><rect x="139" y="535" width="2" height="5"/><rect x="141" y="535" width="2" height="5"/><rect x="143" y="535" width="2" height="5"/><rect x="145" y="536" width="2" height="4"/><rect x="147" y="536" width="2" height="4"/><rect x="149" y="537" width="2" height="3"/><rect x="151" y="537" width="2" height="3"/><rect x="153" y="538" width="2" height="2"/><rect x="155" y="539" width="2" height="1"/><rect x="159" y="540" width="2" height="1"/><rect x="161" y="540" width="2" height="1"/><rect x="163" y="540" width="2" height="1"/><rect x="165" y="540" width="2" height="1"/><rect x="169" y="539" width="2" height="1"/><rect x="171" y="538" width="2" height="2"/><rect x="173" y="537" width="2" height="3"/><rect x="175" y="535" width="2" height="5"/><rect x="177" y="533" width="2" height="7"/><rect x="179" y="531" width="2" height="9"/><rect x="181" y="530" width="2" height="10"/><rect x="183" y="528" width="2" height="12"/><rect x="185" y="527" width="2" height="13"/><rect x="187" y="528" width="2" height="12"/><rect x="189" y="529" width="2" height="11"/><rect x="191" y="531" width="2" height="9"/><rect x="193" y="533" width="2" height="7"/><rect x="195" y="535" width="2" height="5"/><rect x="197" y="536" width="2" height="4"/><rect x="199" y="538" width="2" height="2"/><rect x="201" y="539" width="2" height="1"/><rect x="203" y="540" width="2" height="1"/><rect x="205" y="540" width="2" height="2"/><rect x="207" y="540" width="2" height="3"/><rect x="209" y="540" width="2" height="4"/><rect x="211" y="540" width="2" height="5"/><rect x="213" y="540" width="2" height="6"/><rect x="215" y="540" width="2" height="6"/><rect x="217" y="540" width="2" height="7"/><rect x="219" y="540" width="2" height="8"/><rect x="221" y="540" width="2" height="8"/><rect x="223" y="540" width="2" height="9"/><rect x="225" y="540" width="2" height="10"/><rect x="227" y="540" width="2" height="10"/><rect x="229" y="540" width="2" height="10"/><rect x="231" y="540" width="2" height="9"/><rect x="233" y="540" width="2" height="9"/><rect x="235" y="540" width="2" height="9"/><rect x="237" y="540" width="2" height="9"/><rect x="239" y="540" width="2" height="8"/><rect x="241" y="540" width="2" height="8"/><rect x="243" y="540" width="2" height="7"/><rect x="245" y="540" width="2" height="7"/><rect x="247" y="540" width="2" height="6"/><rect x="249" y="540" width="2" height="5"/><rect x="251" y="540" width="2" height="3"/><rect x="253" y="540" width="2" height="1"/><rect x="255" y="539" width="2" height="1"/><rect x="257" y="538" width="2" height="2"/><rect x="259" y="537" width="2" height="3"/><rect x="261" y="536" width="2" height="4"/><rect x="263" y="536" width="2" height="4"/><rect x="265" y="535" width="2" height="5"/><rect x="267" y="535" width="2" height="5"/><rect x="269" y="535" width="2" height="5"/><rect x="271" y="535" width="2" height="5"/><rect x="273" y="535" width="2" height="5"/><rect x="275" y="535" width="2" height="5"/><rect x="277" y="536" width="2" height="4"/><rect x="279" y="535" width="2" height="5"/><rect x="281" y="535" width="2" height="5"/><rect x="283" y="535" width="2" height="5"/><rect x="285" y="534" width="2" height="6"/><rect x="287" y="534" width="2" height="6"/><rect x="289" y="531" width="2" height="9"/><rect x="291" y="527" width="2" height="13"/><rect x="293" y="522" width="2" height="18"/><rect x="295" y="517" width="2" height="23"/><rect x="297" y="511" width="2" height="29"/><rect x="299" y="505" width="2" height="35"/><rect x="301" y="500" width="2" height="40"/><rect x="303" y="498" width="2" height="42"/><rect x="305" y="495" width="2" height="45"/><rect x="307" y="493" width="2" height="47"/><rect x="309" y="492" width="2" height="48"/><rect x="311" y="491" width="2" height="49"/><rect x="313" y="490" width="2" height="50"/><rect x="315" y="490" width="2" height="50"/><rect x="317" y="491" width="2" height="49"/><rect x="319" y="492" width="2" height="48"/><rect x="321" y="494" width="2" height="46"/><rect x="323" y="497" width="2" height="43"/><rect x="325" y="500" width="2" height="40"/><rect x="327" y="503" width="2" height="37"/><rect x="329" y="505" width="2" height="35"/><rect x="331" y="508" width="2" height="32"/><rect x="333" y="510" width="2" height="30"/><rect x="335" y="513" width="2" height="27"/><rect x="337" y="515" width="2" height="25"/><rect x="339" y="517" width="2" height="23"/><rect x="341" y="518" width="2" height="22"/><rect x="343" y="520" width="2" height="20"/><rect x="345" y="522" width="2" height="18"/><rect x="347" y="523" width="2" height="17"/><rect x="349" y="524" width="2" height="16"/><rect x="351" y="525" width="2" height="15"/><rect x="353" y="526" width="2" height="14"/><rect x="355" y="527" width="2" height="13"/><rect x="357" y="528" width="2" height="12"/><rect x="359" y="529" width="2" height="11"/><rect x="361" y="530" width="2" height="10"/><rect x="363" y="531" width="2" height="9"/><rect x="365" y="532" width="2" height="8"/><rect x="367" y="533" width="2" height="7"/><rect x="369" y="534" width="2" height="6"/><rect x="371" y="535" width="2" height="5"/><rect x="373" y="536" width="2" height="4"/><rect x="375" y="537" width="2" height="3"/><rect x="377" y="537" width="2" height="3"/><rect x="379" y="537" width="2" height="3"/><rect x="381" y="537" width="2" height="3"/><rect x="383" y="537" width="2" height="3"/><rect x="385" y="536" width="2" height="4"/><rect x="387" y="535" width="2" height="5"/><rect x="389" y="535" width="2" height="5"/><rect x="391" y="534" width="2" height="6"/><rect x="393" y="533" width="2" height="7"/><rect x="395" y="533" width="2" height="7"/><rect x="397" y="532" width="2" height="8"/><rect x="399" y="532" width="2" height="8"/><rect x="401" y="531" width="2" height="9"/><rect x="403" y="529" width="2" height="11"/><rect x="405" y="528" width="2" height="12"/><rect x="407" y="526" width="2" height="14"/><rect x="409" y="525" width="2" height="15"/><rect x="411" y="524" width="2" height="16"/><rect x="413" y="524" width="2" height="16"/><rect x="415" y="523" width="2" height="17"/><rect x="417" y="523" width="2" height="17"/><rect x="419" y="524" width="2" height="16"/><rect x="421" y="524" width="2" height="16"/><rect x="423" y="524" width="2" height="16"/><rect x="425" y="525" width="2" height="15"/><rect x="427" y="526" width="2" height="14"/><rect x="429" y="527" width="2" height="13"/><rect x="431" y="528" width="2" height="12"/><rect x="433" y="531" width="2" height="9"/><rect x="435" y="533" width="2" height="7"/><rect x="437" y="536" width="2" height="4"/><rect x="439" y="537" width="2" height="3"/><rect x="441" y="538" width="2" height="2"/><rect x="447" y="540" width="2" height="1"/><rect x="449" y="540" width="2" height="2"/><rect x="451" y="540" width="2" height="1"/><rect x="455" y="539" width="2" height="1"/><rect x="457" y="538" width="2" height="2"/><rect x="459" y="538" width="2" height="2"/><rect x="461" y="537" width="2" height="3"/><rect x="463" y="536" width="2" height="4"/><rect x="465" y="536" width="2" height="4"/><rect x="467" y="536" width="2" height="4"/><rect x="469" y="535" width="2" height="5"/><rect x="471" y="535" width="2" height="5"/><rect x="473" y="535" width="2" height="5"/><rect x="475" y="535" width="2" height="5"/><rect x="477" y="539" width="2" height="1"/><rect x="479" y="540" width="2" height="6"/><rect x="481" y="540" width="2" height="11"/><rect x="483" y="540" width="2" height="14"/><rect x="485" y="540" width="2" height="16"/><rect x="487" y="540" width="2" height="17"/><rect x="489" y="540" width="2" height="18"/><rect x="491" y="540" width="2" height="19"/><rect x="493" y="540" width="2" height="19"/><rect x="495" y="540" width="2" height="19"/><rect x="497" y="540" width="2" height="19"/><rect x="499" y="540" width="2" height="19"/><rect x="501" y="540" width="2" height="18"/><rect x="503" y="540" width="2" height="18"/><rect x="505" y="540" width="2" height="17"/><rect x="507" y="540" width="2" height="16"/><rect x="509" y="540" width="2" height="16"/><rect x="511" y="540" width="2" height="15"/><rect x="513" y="540" width="2" height="13"/><rect x="515" y="540" width="2" height="12"/><rect x="517" y="540" width="2" height="10"/><rect x="519" y="540" width="2" height="8"/><rect x="521" y="540" width="2" height="6"/><rect x="523" y="540" width="2" height="4"/><rect x="525" y="540" width="2" height="3"/><rect x="527" y="540" width="2" height="2"/><rect x="529" y="540" width="2" height="2"/><rect x="531" y="540" width="2" height="3"/><rect x="533" y="540" width="2" height="4"/><rect x="535" y="540" width="2" height="5"/><rect x="537" y="540" width="2" height="4"/><rect x="539" y="540" width="2" height="2"/><rect x="541" y="540" width="2" height="1"/><rect x="543" y="539" width="2" height="1"/><rect x="545" y="538" width="2" height="2"/><rect x="547" y="537" width="2" height="3"/><rect x="549" y="536" width="2" height="4"/><rect x="551" y="535" width="2" height="5"/><rect x="553" y="534" width="2" height="6"/><rect x="555" y="533" width="2" height="7"/><rect x="557" y="533" width="2" height="7"/><rect x="559" y="533" width="2" height="7"/><rect x="561" y="533" width="2" height="7"/><rect x="563" y="534" width="2" height="6"/><rect x="565" y="534" width="2" height="6"/><rect x="567" y="535" width="2" height="5"/><rect x="569" y="535" width="2" height="5"/><rect x="571" y="534" width="2" height="6"/><rect x="573" y="534" width="2" height="6"/><rect x="575" y="534" width="2" height="6"/><rect x="577" y="534" width="2" height="6"/><rect x="579" y="533" width="2" height="7"/><rect x="581" y="532" width="2" height="8"/><rect x="583" y="532" width="2" height="8"/><rect x="585" y="531" width="2" height="9"/><rect x="587" y="532" width="2" height="8"/><rect x="589" y="534" width="2" height="6"/><rect x="591" y="536" width="2" height="4"/><rect x="593" y="538" width="2" height="2"/><rect x="597" y="540" width="2" height="2"/><rect x="599" y="540" width="2" height="1"/><rect x="603" y="539" width="2" height="1"/><rect x="605" y="538" width="2" height="2"/><rect x="607" y="537" width="2" height="3"/><rect x="609" y="536" width="2" height="4"/><rect x="611" y="536" width="2" height="4"/><rect x="613" y="536" width="2" height="4"/><rect x="615" y="536" width="2" height="4"/><rect x="617" y="537" width="2" height="3"/><rect x="619" y="537" width="2" height="3"/><rect x="621" y="538" width="2" height="2"/><rect x="623" y="539" width="2" height="1"/><rect x="625" y="540" width="2" height="1"/><rect x="627" y="540" width="2" height="2"/><rect x="629" y="540" width="2" height="4"/><rect x="631" y="540" width="2" height="5"/><rect x="633" y="540" width="2" height="6"/><rect x="635" y="540" width="2" height="7"/><rect x="637" y="540" width="2" height="8"/><rect x="639" y="540" width="2" height="8"/><rect x="641" y="540" width="2" height="9"/><rect x="643" y="540" width="2" height="9"/><rect x="645" y="540" width="2" height="10"/><rect x="647" y="540" width="2" height="11"/><rect x="649" y="540" width="2" height="12"/><rect x="651" y="540" width="2" height="14"/><rect x="653" y="540" width="2" height="15"/><rect x="655" y="540" width="2" height="17"/><rect x="657" y="540" width="2" height="18"/><rect x="659" y="540" width="2" height="20"/><rect x="661" y="540" width="2" height="22"/><rect x="663" y="540" width="2" height="22"/><rect x="665" y="540" width="2" height="23"/><rect x="667" y="540" width="2" height="24"/><rect x="669" y="540" width="2" height="25"/><rect x="671" y="540" width="2" height="25"/><rect x="673" y="540" width="2" height="25"/><rect x="675" y="540" width="2" height="25"/><rect x="677" y="540" width="2" height="24"/><rect x="679" y="540" width="2" height="24"/><rect x="681" y="540" width="2" height="23"/><rect x="683" y="540" width="2" height="22"/><rect x="685" y="540" width="2" height="22"/><rect x="687" y="540" width="2" height="21"/><rect x="689" y="540" width="2" height="20"/><rect x="691" y="540" width="2" height="19"/><rect x="693" y="540" width="2" height="19"/><rect x="695" y="540" width="2" height="18"/><rect x="697" y="540" width="2" height="18"/><rect x="699" y="540" width="2" height="17"/><rect x="701" y="540" width="2" height="17"/><rect x="703" y="540" width="2" height="16"/><rect x="705" y="540" width="2" height="15"/><rect x="707" y="540" width="2" height="15"/><rect x="709" y="540" width="2" height="14"/><rect x="711" y="540" width="2" height="13"/><rect x="713" y="540" width="2" height="12"/><rect x="715" y="540" width="2" height="10"/><rect x="717" y="540" width="2" height="9"/><rect x="719" y="540" width="2" height="7"/><rect x="721" y="540" width="2" height="5"/><rect x="723" y="540" width="2" height="3"/><rect x="727" y="537" width="2" height="3"/><rect x="729" y="534" width="2" height="6"/><rect x="731" y="530" width="2" height="10"/><rect x="733" y="527" width="2" height="13"/><rect x="735" y="524" width="2" height="16"/><rect x="737" y="521" width="2" height="19"/><rect x="739" y="519" width="2" height="21"/><rect x="741" y="516" width="2" height="24"/><rect x="743" y="514" width="2" height="26"/><rect x="745" y="512" width="2" height="28"/><rect x="747" y="511" width="2" height="29"/><rect x="749" y="510" width="2" height="30"/><rect x="751" y="508" width="2" height="32"/><rect x="753" y="508" width="2" height="32"/><rect x="755" y="508" width="2" height="32"/><rect x="757" y="507" width="2" height="33"/><rect x="759" y="507" width="2" height="33"/><rect x="761" y="507" width="2" height="33"/><rect x="763" y="508" width="2" height="32"/><rect x="765" y="510" width="2" height="30"/><rect x="767" y="511" width="2" height="29"/><rect x="769" y="513" width="2" height="27"/><rect x="771" y="515" width="2" height="25"/><rect x="773" y="516" width="2" height="24"/><rect x="775" y="518" width="2" height="22"/><rect x="777" y="519" width="2" height="21"/><rect x="779" y="520" width="2" height="20"/><rect x="781" y="521" width="2" height="19"/><rect x="783" y="522" width="2" height="18"/><rect x="785" y="523" width="2" height="17"/><rect x="787" y="525" width="2" height="15"/><rect x="789" y="528" width="2" height="12"/><rect x="791" y="534" width="2" height="6"/><rect x="795" y="540" width="2" height="3"/><rect x="797" y="540" width="2" height="6"/><rect x="799" y="540" width="2" height="9"/><rect x="801" y="540" width="2" height="11"/><rect x="803" y="540" width="2" height="14"/><rect x="805" y="540" width="2" height="15"/><rect x="807" y="540" width="2" height="16"/><rect x="809" y="540" width="2" height="16"/><rect x="811" y="540" width="2" height="17"/><rect x="813" y="540" width="2" height="16"/><rect x="815" y="540" width="2" height="15"/><rect x="817" y="540" width="2" height="14"/><rect x="819" y="540" width="2" height="13"/><rect x="821" y="540" width="2" height="11"/><rect x="823" y="540" width="2" height="9"/><rect x="825" y="540" width="2" height="8"/><rect x="827" y="540" width="2" height="6"/><rect x="829" y="540" width="2" height="4"/><rect x="831" y="540" width="2" height="1"/><rect x="833" y="538" width="2" height="2"/><rect x="835" y="537" width="2" height="3"/><rect x="837" y="537" width="2" height="3"/><rect x="839" y="536" width="2" height="4"/><rect x="841" y="536" width="2" height="4"/><rect x="843" y="536" width="2" height="4"/><rect x="845" y="536" width="2" height="4"/><rect x="847" y="537" width="2" height="3"/><rect x="849" y="537" width="2" height="3"/><rect x="851" y="538" width="2" height="2"/><rect x="853" y="538" width="2" height="2"/><rect x="855" y="539" width="2" height="1"/><rect x="861" y="540" width="2" height="2"/><rect x="863" y="540" width="2" height="4"/><rect x="865" y="540" width="2" height="5"/><rect x="867" y="540" width="2" height="6"/><rect x="869" y="540" width="2" height="7"/><rect x="871" y="540" width="2" height="8"/><rect x="873" y="540" width="2" height="8"/><rect x="875" y="540" width="2" height="8"/><rect x="877" y="540" width="2" height="8"/><rect x="879" y="540" width="2" height="8"/><rect x="881" y="540" width="2" height="8"/><rect x="883" y="540" width="2" height="8"/><rect x="885" y="540" width="2" height="7"/><rect x="887" y="540" width="2" height="6"/><rect x="889" y="540" width="2" height="5"/><rect x="891" y="540" width="2" height="4"/><rect x="893" y="540" width="2" height="1"/><rect x="895" y="539" width="2" height="1"/><rect x="897" y="537" width="2" height="3"/><rect x="899" y="536" width="2" height="4"/><rect x="901" y="535" width="2" height="5"/><rect x="903" y="535" width="2" height="5"/><rect x="905" y="534" width="2" height="6"/><rect x="907" y="536" width="2" height="4"/><rect x="909" y="537" width="2" height="3"/><rect x="911" y="539" width="2" height="1"/><rect x="913" y="540" width="2" height="1"/><rect x="915" y="540" width="2" height="3"/><rect x="917" y="540" width="2" height="6"/><rect x="919" y="540" width="2" height="4"/><rect x="921" y="540" width="2" height="2"/><rect x="925" y="539" width="2" height="1"/><rect x="927" y="537" width="2" height="3"/><rect x="929" y="536" width="2" height="4"/></g>
<polyline fill="none" stroke="#ff0000" stroke-width="1" points="4.8,536.8 9.9,537.6 17.9,543.6 27.8,547.6 37.7,550.7 47.7,553.5 53.6,549.6 59.6,545.2 65.6,545.2 73.5,547.6 83.4,549.2 95.4,549.6 105.3,550.3 115.2,546.8 125.1,541.6 135.1,537.6 145.0,536.0 153.0,536.4 160.9,538.4 168.9,540.4 174.8,539.6 182.8,535.6 190.7,531.3 198.6,532.5 206.6,538.8 216.5,543.6 226.5,547.6 238.4,548.4 248.3,547.6 256.3,543.6 264.2,538.8 272.1,535.6 280.1,534.9 288.0,534.9 296.0,530.9 303.9,515.8 311.9,501.9 317.8,493.9 323.8,492.7 329.8,496.7 337.7,505.9 345.6,515.0 353.6,522.9 363.5,528.5 373.5,534.5 383.4,536.8 391.3,535.6 401.3,533.7 411.2,528.9 421.1,524.9 431.1,524.1 437.0,528.5 445.0,534.9 452.9,539.2 460.9,538.4 468.8,536.4 473.2,536.4 476.0,536.8 481.9,542.8 489.9,552.3 497.8,556.7 507.7,557.1 515.7,553.5 523.6,547.6 529.6,544.4 537.5,545.2 545.5,542.8 553.4,538.8 561.4,535.6 571.3,535.3 581.2,534.1 589.2,533.3 597.1,536.4 605.1,539.2 613.0,538.4 621.0,538.4 628.9,542.0 636.9,545.6 644.8,548.0 652.8,550.3 660.7,556.3 668.6,561.5 676.6,563.9 686.5,562.3 696.5,559.1 706.4,556.3 716.3,550.7 726.3,544.4 734.2,537.6 742.1,527.7 750.1,517.8 758.0,511.0 764.0,508.6 771.9,510.6 779.9,515.0 787.8,519.0 795.8,526.9 801.7,537.6 807.7,546.8 813.7,552.3 821.6,553.1 829.6,549.6 837.5,543.6 845.4,538.8 853.4,536.8 861.3,537.6 869.3,542.0 877.2,546.0 885.2,547.2 893.1,545.6 901.1,541.6 909.0,537.2 915.0,537.6 922.9,540.8 928.9,541.6"/>
</g>
<!-- rsi -->
<g clip-path="url(#crsi)">
<line x1="5" y1="598.5" x2="1167" y2="598.5" stroke="#c0c0c0" stroke-width="1" stroke-dasharray="3,3" shape-rendering="crispEdges"/>
<line x1="5" y1="632.5" x2="1167" y2="632.5" stroke="#c0c0c0" stroke-width="1" stroke-dasharray="3,3" shape-rendering="crispEdges"/>
<polyline fill="none" stroke="#1e90ff" stroke-width="1" points="5.8,619.8 9.3,626.2 11.9,622.5 14.6,624.3 16.4,622.5 19.1,627.0 22.5,621.7 25.7,619.0 28.6,622.5 31.3,631.5 33.1,632.3 35.8,626.2 38.4,627.7 40.3,625.6 41.9,628.3 43.7,617.2 45.6,618.5 47.2,616.4 49.0,610.3 53.0,609.7 55.6,616.4 59.6,621.7 63.6,625.1 66.2,627.0 69.4,618.5 72.8,620.3 76.8,621.7 80.8,624.3 83.4,621.7 86.1,623.0 88.7,624.3 91.4,628.8 94.0,619.0 95.9,618.2 98.0,622.5 100.7,623.0 103.3,625.1 106.0,615.0 108.6,612.9 110.7,615.0 112.6,612.4 113.9,617.2 115.8,609.7 117.1,608.4 119.2,613.7 121.1,617.7 124.5,612.9 127.2,609.7 129.3,606.6 131.1,610.3 133.8,611.9 135.6,613.7 137.7,610.3 140.4,611.9 143.0,615.0 145.7,614.5 147.8,615.6 150.5,612.4 153.1,617.7 155.2,625.1 157.6,619.0 160.3,617.2 162.1,613.7 163.7,607.1 165.6,614.5 168.2,616.4 170.9,615.6 173.5,613.2 176.2,607.1 178.0,601.3 180.1,599.1 182.3,604.4 184.1,603.1 186.2,602.3 188.1,607.1 189.4,619.0 192.1,617.7 194.7,617.7 197.4,615.0 200.0,619.0 202.6,621.7 205.3,622.5 209.3,619.5 211.9,622.5 215.1,623.0 217.7,622.2 220.4,623.0 223.0,627.7 225.2,631.5 227.3,621.7 229.9,619.5 233.1,619.0 235.2,618.5 237.1,621.7 239.7,620.9 242.4,625.1 245.0,625.6 247.7,615.0 250.3,607.1 253.0,607.9 256.4,608.4 259.1,611.1 261.7,608.4 264.4,607.1 267.0,606.6 269.7,609.7 272.8,611.9 275.5,612.9 278.1,613.7 280.3,611.6 282.1,614.5 285.6,608.4 287.4,612.9 288.7,593.3 291.4,593.3 293.5,592.5 296.2,586.4 299.3,585.1 303.3,585.9 306.0,585.4 309.4,583.2 314.0,585.4 317.4,587.2 320.1,592.5 321.1,598.6 323.2,600.5 325.4,603.1 328.0,599.7 330.7,597.0 333.3,601.8 335.2,602.3 337.3,607.1 339.7,605.8 342.3,609.7 345.2,617.2 348.4,610.3 352.4,608.9 355.6,611.9 358.2,610.3 360.9,613.7 363.5,612.9 366.2,616.4 368.8,623.0 371.5,613.7 374.9,611.9 377.5,612.9 381.0,610.3 382.8,611.9 385.5,609.2 388.1,608.4 390.8,609.2 393.4,604.4 395.3,609.7 398.7,608.4 401.4,606.6 404.0,603.9 406.7,599.1 409.3,596.5 412.0,596.5 413.8,596.0 416.0,599.1 417.5,605.8 419.9,601.3 422.6,600.5 425.2,599.7 427.4,599.1 429.2,609.7 431.3,616.4 433.2,621.7 435.8,616.4 438.5,620.3 441.1,617.7 445.1,617.7 447.7,617.7 449.6,621.7 451.7,611.9 454.4,609.7 457.0,609.2 459.7,611.1 462.8,614.5 465.8,609.2 468.9,607.1 471.6,605.8 473.7,616.4 475.6,630.9 478.2,632.3 481.7,631.5 484.3,629.6 487.0,631.5 489.6,628.3 492.8,630.4 495.4,627.0 498.6,622.5 501.3,625.1 504.7,623.0 507.4,624.8 510.0,621.7 512.6,617.2 515.3,617.7 517.4,611.1 520.1,612.4 522.7,610.3 525.1,616.4 527.7,620.9 530.4,624.3 532.5,623.0 535.2,627.0 537.3,615.0 539.1,611.1 541.8,612.4 544.4,610.3 547.1,611.1 549.7,609.7 552.4,608.9 555.0,609.7 557.7,605.8 559.0,605.2 561.1,615.0 563.8,616.4 566.4,615.0 569.1,611.9 571.5,617.2 573.0,605.8 575.7,605.8 578.1,608.4 580.7,607.1 582.8,606.6 585.5,615.0 588.1,619.8 591.3,620.9 594.8,619.0 597.4,623.0 599.3,613.7 601.4,612.4 604.0,611.9 606.7,609.7 610.7,609.2 613.3,613.7 616.8,617.2 619.9,622.5 622.6,625.6 626.6,627.0 629.3,623.0 631.1,615.6 633.2,624.3 635.4,627.7 638.0,625.1 641.2,622.5 643.8,621.7 645.4,617.7 647.8,627.0 649.7,631.5 653.1,633.0 657.1,636.2 661.1,637.5 663.7,634.9 665.6,631.5 667.2,634.4 669.8,631.5 673.0,630.4 677.0,631.5 680.9,634.1 683.6,630.9 686.8,629.6 689.4,627.7 692.1,632.3 695.2,626.2 698.1,630.4 701.6,629.6 703.7,624.3 705.3,631.5 706.9,619.0 708.7,614.5 711.4,611.1 714.8,611.9 718.0,612.9 721.2,615.0 723.3,611.9 726.0,609.7 728.1,604.4 729.9,596.5 732.6,593.3 735.2,592.5 738.4,591.2 741.3,587.7 744.0,589.9 746.6,587.2 749.3,589.1 751.9,588.0 754.6,586.4 757.7,586.4 760.4,588.0 763.6,587.2 765.2,597.0 767.8,598.6 770.5,599.1 773.1,599.9 776.3,597.3 778.9,595.7 781.6,595.2 783.7,597.8 785.6,597.3 787.4,607.1 789.5,619.0 792.2,627.0 794.8,628.8 797.5,625.6 799.6,632.3 801.5,634.9 804.1,630.4 806.8,628.8 809.4,626.2 811.3,630.4 813.4,627.0 815.5,619.5 818.7,619.0 821.3,620.3 823.4,619.8 825.3,613.7 827.4,608.9 829.3,612.9 831.1,606.6 833.2,606.3 835.1,616.4 837.2,612.9 839.9,611.1 841.7,609.2 843.8,612.4 845.7,615.6 848.3,613.7 851.0,611.9 853.1,612.4 855.2,616.4 857.9,617.2 859.7,617.2 861.6,623.0 863.7,621.7 865.0,625.1 867.7,622.5 870.3,623.5 873.0,624.3 875.6,623.0 877.5,622.5 879.1,615.6 881.7,618.2 884.4,619.0 887.0,618.5 889.7,619.0 892.3,616.4 895.0,611.1 897.4,602.3 899.5,605.8 902.1,605.0 904.8,609.2 907.4,611.1 909.3,619.0 911.4,624.3 914.0,627.0 915.4,627.7 918.0,619.0 920.7,612.4 924.1,609.2 926.8,609.7 928.9,609.2" shape-rendering="crispEdges"/>
</g>
<!-- AXIS -->
<g id="axis"><rect x="1168" y="84" width="2" height="1" fill="#000"/>
<text x="1173.0" y="87.7" font-size="10.2" fill="#000" stroke="#000" stroke-width="0.1" textLength="33.2" lengthAdjust="spacingAndGlyphs">0.92430</text>
<rect x="1168" y="117" width="2" height="1" fill="#000"/>
<text x="1173.0" y="120.7" font-size="10.2" fill="#000" stroke="#000" stroke-width="0.1" textLength="33.2" lengthAdjust="spacingAndGlyphs">0.92160</text>
<rect x="1168" y="150" width="2" height="1" fill="#000"/>
<text x="1173.0" y="153.7" font-size="10.2" fill="#000" stroke="#000" stroke-width="0.1" textLength="33.2" lengthAdjust="spacingAndGlyphs">0.91890</text>
<rect x="1168" y="183" width="2" height="1" fill="#000"/>
<text x="1173.0" y="186.7" font-size="10.2" fill="#000" stroke="#000" stroke-width="0.1" textLength="33.2" lengthAdjust="spacingAndGlyphs">0.91615</text>
<rect x="1168" y="216" width="2" height="1" fill="#000"/>
<text x="1173.0" y="219.7" font-size="10.2" fill="#000" stroke="#000" stroke-width="0.1" textLength="33.2" lengthAdjust="spacingAndGlyphs">0.91345</text>
<rect x="1168" y="249" width="2" height="1" fill="#000"/>
<text x="1173.0" y="252.7" font-size="10.2" fill="#000" stroke="#000" stroke-width="0.1" textLength="33.2" lengthAdjust="spacingAndGlyphs">0.91075</text>
<rect x="1168" y="282" width="2" height="1" fill="#000"/>
<text x="1173.0" y="285.7" font-size="10.2" fill="#000" stroke="#000" stroke-width="0.1" textLength="33.2" lengthAdjust="spacingAndGlyphs">0.90805</text>
<rect x="1168" y="315" width="2" height="1" fill="#000"/>
<text x="1173.0" y="318.7" font-size="10.2" fill="#000" stroke="#000" stroke-width="0.1" textLength="33.2" lengthAdjust="spacingAndGlyphs">0.90535</text>
<rect x="1168" y="348" width="2" height="1" fill="#000"/>
<text x="1173.0" y="351.7" font-size="10.2" fill="#000" stroke="#000" stroke-width="0.1" textLength="33.2" lengthAdjust="spacingAndGlyphs">0.90265</text>
<rect x="1168" y="381" width="2" height="1" fill="#000"/>
<text x="1173.0" y="384.7" font-size="10.2" fill="#000" stroke="#000" stroke-width="0.1" textLength="33.2" lengthAdjust="spacingAndGlyphs">0.89990</text>
<rect x="1168" y="414" width="2" height="1" fill="#000"/>
<text x="1173.0" y="417.7" font-size="10.2" fill="#000" stroke="#000" stroke-width="0.1" textLength="33.2" lengthAdjust="spacingAndGlyphs">0.89720</text>
<rect x="1168" y="447" width="2" height="1" fill="#000"/>
<text x="1173.0" y="450.7" font-size="10.2" fill="#000" stroke="#000" stroke-width="0.1" textLength="33.2" lengthAdjust="spacingAndGlyphs">0.89450</text>
<rect x="1168" y="480" width="2" height="1" fill="#000"/>
<text x="1173.0" y="483.7" font-size="10.2" fill="#000" stroke="#000" stroke-width="0.1" textLength="33.2" lengthAdjust="spacingAndGlyphs">0.89180</text>
<rect x="1169" y="45" width="39" height="11" fill="#ff0000"/>
<text x="1173.0" y="53.8" font-size="10.2" fill="#fff" stroke="#fff" stroke-width="0.1" textLength="33.2" lengthAdjust="spacingAndGlyphs">0.92699</text>
<rect x="1169" y="148" width="39" height="11" fill="#ff0000"/>
<text x="1173.0" y="156.8" font-size="10.2" fill="#fff" stroke="#fff" stroke-width="0.1" textLength="33.2" lengthAdjust="spacingAndGlyphs">0.91855</text>
<rect x="1169" y="167" width="39" height="11" fill="#000000"/>
<text x="1173.0" y="175.8" font-size="10.2" fill="#fff" stroke="#fff" stroke-width="0.1" textLength="33.2" lengthAdjust="spacingAndGlyphs">0.91713</text>
<rect x="1169" y="227" width="39" height="11" fill="#00ff00"/>
<text x="1173.0" y="235.8" font-size="10.2" fill="#fff" stroke="#fff" stroke-width="0.1" textLength="33.2" lengthAdjust="spacingAndGlyphs">0.91208</text>
<rect x="1169" y="325" width="39" height="11" fill="#0000ff"/>
<text x="1173.0" y="333.8" font-size="10.2" fill="#fff" stroke="#fff" stroke-width="0.1" textLength="33.2" lengthAdjust="spacingAndGlyphs">0.90405</text>
<rect x="1169" y="423" width="39" height="11" fill="#0000ff"/>
<text x="1173.0" y="431.8" font-size="10.2" fill="#fff" stroke="#fff" stroke-width="0.1" textLength="33.2" lengthAdjust="spacingAndGlyphs">0.89602</text>
<rect x="1168" y="487" width="1" height="1" fill="#000"/>
<text x="1171.0" y="496.0" font-size="10.2" fill="#000" stroke="#000" stroke-width="0.1" textLength="38.3" lengthAdjust="spacingAndGlyphs">0.006451</text>
<rect x="1168" y="540" width="2" height="1" fill="#000"/>
<text x="1171.0" y="543.8" font-size="10.2" fill="#000" stroke="#000" stroke-width="0.1" textLength="17.9" lengthAdjust="spacingAndGlyphs">0.00</text>
<text x="1170.0" y="566.2" font-size="10.2" fill="#000" stroke="#000" stroke-width="0.1" textLength="41.4" lengthAdjust="spacingAndGlyphs">-0.003507</text>
<rect x="1168" y="573" width="1" height="1" fill="#000"/><rect x="1168" y="568" width="1" height="1" fill="#000"/><rect x="1168" y="657" width="1" height="1" fill="#000"/>
<text x="1171.0" y="582.0" font-size="10.2" fill="#000" stroke="#000" stroke-width="0.1" textLength="15.3" lengthAdjust="spacingAndGlyphs">100</text>
<text x="1171.0" y="602.0" font-size="10.2" fill="#000" stroke="#000" stroke-width="0.1" textLength="10.2" lengthAdjust="spacingAndGlyphs">70</text>
<text x="1171.0" y="636.0" font-size="10.2" fill="#000" stroke="#000" stroke-width="0.1" textLength="10.2" lengthAdjust="spacingAndGlyphs">30</text>
<text x="1171.0" y="655.0" font-size="10.2" fill="#000" stroke="#000" stroke-width="0.1" textLength="5.1" lengthAdjust="spacingAndGlyphs">0</text>
<rect x="5" y="659" width="1" height="3" fill="#000"/>
<text class="tm" x="4.5" y="670.7" textLength="54.0" lengthAdjust="spacingAndGlyphs">14 May 2021</text>
<rect x="69" y="659" width="1" height="3" fill="#000"/>
<text class="tm" x="68.5" y="670.7" textLength="57.4" lengthAdjust="spacingAndGlyphs">21 May 18:00</text>
<rect x="133" y="659" width="1" height="3" fill="#000"/>
<text class="tm" x="132.5" y="670.7" textLength="57.7" lengthAdjust="spacingAndGlyphs">29 May 00:00</text>
<rect x="197" y="659" width="1" height="3" fill="#000"/>
<text class="tm" x="196.5" y="670.7" textLength="47.2" lengthAdjust="spacingAndGlyphs">7 Jun 11:00</text>
<rect x="261" y="659" width="1" height="3" fill="#000"/>
<text class="tm" x="260.5" y="670.7" textLength="53.0" lengthAdjust="spacingAndGlyphs">14 Jun 19:00</text>
<rect x="325" y="659" width="1" height="3" fill="#000"/>
<text class="tm" x="324.5" y="670.7" textLength="53.2" lengthAdjust="spacingAndGlyphs">22 Jun 00:00</text>
<rect x="389" y="659" width="1" height="3" fill="#000"/>
<text class="tm" x="388.5" y="670.7" textLength="53.4" lengthAdjust="spacingAndGlyphs">29 Jun 10:00</text>
<rect x="453" y="659" width="1" height="3" fill="#000"/>
<text class="tm" x="452.5" y="670.7" textLength="45.2" lengthAdjust="spacingAndGlyphs">6 Jul 18:00</text>
<rect x="517" y="659" width="1" height="3" fill="#000"/>
<text class="tm" x="516.5" y="670.7" textLength="49.5" lengthAdjust="spacingAndGlyphs">14 Jul 00:00</text>
<rect x="581" y="659" width="1" height="3" fill="#000"/>
<text class="tm" x="580.5" y="670.7" textLength="50.0" lengthAdjust="spacingAndGlyphs">21 Jul 10:00</text>
<rect x="645" y="659" width="1" height="3" fill="#000"/>
<text class="tm" x="644.5" y="670.7" textLength="50.0" lengthAdjust="spacingAndGlyphs">28 Jul 18:00</text>
<rect x="709" y="659" width="1" height="3" fill="#000"/>
<text class="tm" x="708.5" y="670.7" textLength="51.0" lengthAdjust="spacingAndGlyphs">5 Aug 00:00</text>
<rect x="773" y="659" width="1" height="3" fill="#000"/>
<text class="tm" x="772.5" y="670.7" textLength="55.7" lengthAdjust="spacingAndGlyphs">12 Aug 10:00</text>
<rect x="837" y="659" width="1" height="3" fill="#000"/>
<text class="tm" x="836.5" y="670.7" textLength="55.3" lengthAdjust="spacingAndGlyphs">19 Aug 18:00</text>
<rect x="901" y="659" width="1" height="3" fill="#000"/>
<text class="tm" x="900.5" y="670.7" textLength="55.3" lengthAdjust="spacingAndGlyphs">27 Aug 00:00</text></g>

<!-- title text -->
<polygon points="8,34.5 11.5,30 15,34.5" fill="#000"/>
<text x="20.0" y="34.8" font-size="10.2" class="k" fill="#000" textLength="55.0" lengthAdjust="spacingAndGlyphs">USDCHF,H4</text><text x="80.9" y="34.8" font-size="10.2" class="k" fill="#000" textLength="33.3" lengthAdjust="spacingAndGlyphs">0.91715</text><text x="116.9" y="34.8" font-size="10.2" class="k" fill="#000" textLength="33.5" lengthAdjust="spacingAndGlyphs">0.91720</text><text x="152.8" y="34.8" font-size="10.2" class="k" fill="#000" textLength="33.2" lengthAdjust="spacingAndGlyphs">0.91712</text><text x="188.5" y="34.8" font-size="10.2" class="k" fill="#000" textLength="33.3" lengthAdjust="spacingAndGlyphs">0.91713</text>
<text x="9.2" y="497.5" font-size="10.2" class="k" fill="#000" textLength="65.9" lengthAdjust="spacingAndGlyphs">MACD(12,26,9)</text><text x="78.1" y="497.5" font-size="10.2" class="k" fill="#000" textLength="37.8" lengthAdjust="spacingAndGlyphs">0.000359</text><text x="118.9" y="497.5" font-size="10.2" class="k" fill="#000" textLength="41.3" lengthAdjust="spacingAndGlyphs">-0.000183</text>
<text x="9.2" y="583.5" font-size="10.2" class="k" fill="#000" textLength="32.1" lengthAdjust="spacingAndGlyphs">RSI(14)</text><text x="43.9" y="583.5" font-size="10.2" class="k" fill="#000" textLength="33.3" lengthAdjust="spacingAndGlyphs">57.0339</text>
<!-- trade panel -->
<g id="panel">
<rect x="6" y="41" width="223" height="61" fill="#ffffff"/>
<rect x="8" y="43" width="52" height="25" fill="url(#gbtn)"/>
<rect x="8.5" y="43.5" width="51" height="24" fill="none" stroke="#c81414" stroke-width="1"/>
<rect x="175" y="43" width="52" height="25" fill="url(#gbtn)"/>
<rect x="175.5" y="43.5" width="51" height="24" fill="none" stroke="#c81414" stroke-width="1"/>
<rect x="8" y="67" width="109" height="33" fill="url(#gbox)"/>
<rect x="119" y="67" width="108" height="33" fill="url(#gbox)"/>
<rect x="12" y="66" width="44" height="1" fill="#9c0000"/>
<rect x="12" y="67" width="44" height="1" fill="#e85050"/>
<rect x="179" y="66" width="44" height="1" fill="#9c0000"/>
<rect x="179" y="67" width="44" height="1" fill="#e85050"/>
<text x="19.8" y="58.8" font-size="12" fill="#fff" id="sell" textLength="26.8" lengthAdjust="spacingAndGlyphs">SELL</text>
<text x="188" y="58.8" font-size="12" fill="#fff" id="buy" textLength="24.2" lengthAdjust="spacingAndGlyphs">BUY</text>
<!-- spinner -->
<rect x="62.5" y="43.5" width="110" height="21" fill="#fff" stroke="#a8a8b4" stroke-width="1"/>
<rect x="64" y="45" width="19" height="18" fill="url(#gsp)"/>
<rect x="83" y="44" width="1" height="20" fill="#a8a8b4"/>
<rect x="151" y="44" width="1" height="20" fill="#a8a8b4"/>
<rect x="152.5" y="45" width="19" height="18" fill="url(#gsp)"/>
<polygon points="70.2,52 74.8,52 72.5,55.2" fill="#4a64c0"/>
<polygon points="159.2,54.8 163.8,54.8 161.5,51.6" fill="#4a64c0"/>
<text x="148" y="57.5" font-size="12" fill="#000" text-anchor="end" id="vol">3.00</text>
<!-- prices -->
<text x="27.8" y="94.8" font-size="12.4" font-weight="bold" fill="#fff" id="p1">0.91</text>
<text x="54.5" y="95" font-size="34" fill="#fff" id="b1" textLength="36.4" lengthAdjust="spacingAndGlyphs">71</text>
<text x="94.8" y="78.9" font-size="12.6" font-weight="bold" fill="#fff" id="s1">6</text>
<text x="137.8" y="94.8" font-size="12.4" font-weight="bold" fill="#fff" id="p2">0.91</text>
<text x="165.5" y="95" font-size="34" fill="#fff" id="b2" textLength="36.4" lengthAdjust="spacingAndGlyphs">73</text>
<text x="205.4" y="78.9" font-size="12.6" font-weight="bold" fill="#fff" id="s2">0</text>
</g>
<!-- bottom tab bar -->
<g id="tabs">
<rect x="2" y="679" width="1206" height="2" fill="#ececec"/>
<rect x="0" y="682" width="1208" height="1" fill="#fafafa"/>
<rect x="0" y="683" width="1208" height="18" fill="#f0f0f0"/>
<rect x="0" y="701" width="1208" height="2" fill="#fcfcfc"/>
<rect x="0" y="681" width="1208" height="1" fill="#000"/>
<rect x="0" y="682" width="1" height="19" fill="#a0a0a0"/><rect x="1" y="682" width="1" height="19" fill="#696969"/>
<rect x="203" y="681" width="87" height="19" fill="#fff"/>
<rect x="202" y="681" width="1" height="19" fill="#000"/>
<rect x="289" y="681" width="1" height="19" fill="#000"/>
<rect x="290" y="683" width="1" height="18" fill="#606060"/>
<rect x="202" y="699" width="88" height="1" fill="#000"/>
<rect x="203" y="700" width="88" height="1" fill="#606060"/>
<text class="tab" x="17.9" y="696" textLength="68.6" lengthAdjust="spacingAndGlyphs">EURUSD,H4</text>
<text class="tab" x="108.3" y="696" textLength="83.6" lengthAdjust="spacingAndGlyphs">AUDUSD,Daily</text>
<text class="taba" x="211.6" y="696" textLength="67.8" lengthAdjust="spacingAndGlyphs">USDCHF,H4</text>
<text class="tab" x="300.4" y="696" textLength="82.3" lengthAdjust="spacingAndGlyphs">USDCAD,Daily</text>
<text class="tab" x="403.6" y="696" textLength="83.8" lengthAdjust="spacingAndGlyphs">USDCNH,Daily</text>
<text class="tab" x="509.6" y="696" textLength="52.4" lengthAdjust="spacingAndGlyphs">UKOil,H1</text>
<text class="tab" x="583.4" y="696" textLength="48.1" lengthAdjust="spacingAndGlyphs">DJ30,H1</text>
<text class="tab" x="653.6" y="696" textLength="52.6" lengthAdjust="spacingAndGlyphs">USDX,H1</text>
<text class="tab" x="728.4" y="696" textLength="69.3" lengthAdjust="spacingAndGlyphs">XAUUSD,H1</text>
<text class="tab" x="821.4" y="696" textLength="68.8" lengthAdjust="spacingAndGlyphs">GBPUSD,H1</text>
<g fill="#707070"><rect x="98" y="684" width="1" height="14"/><rect x="394" y="684" width="1" height="14"/><rect x="498" y="684" width="1" height="14"/><rect x="574" y="684" width="1" height="14"/><rect x="642" y="684" width="1" height="14"/><rect x="718" y="684" width="1" height="14"/><rect x="810" y="684" width="1" height="14"/><rect x="902" y="684" width="1" height="14"/></g>
<polygon points="1182,690 1186,686.5 1186,693.5" fill="#808080"/>
<polygon points="1205,690 1201,686.5 1201,693.5" fill="#808080"/>
</g>

</svg>
</body></html>
